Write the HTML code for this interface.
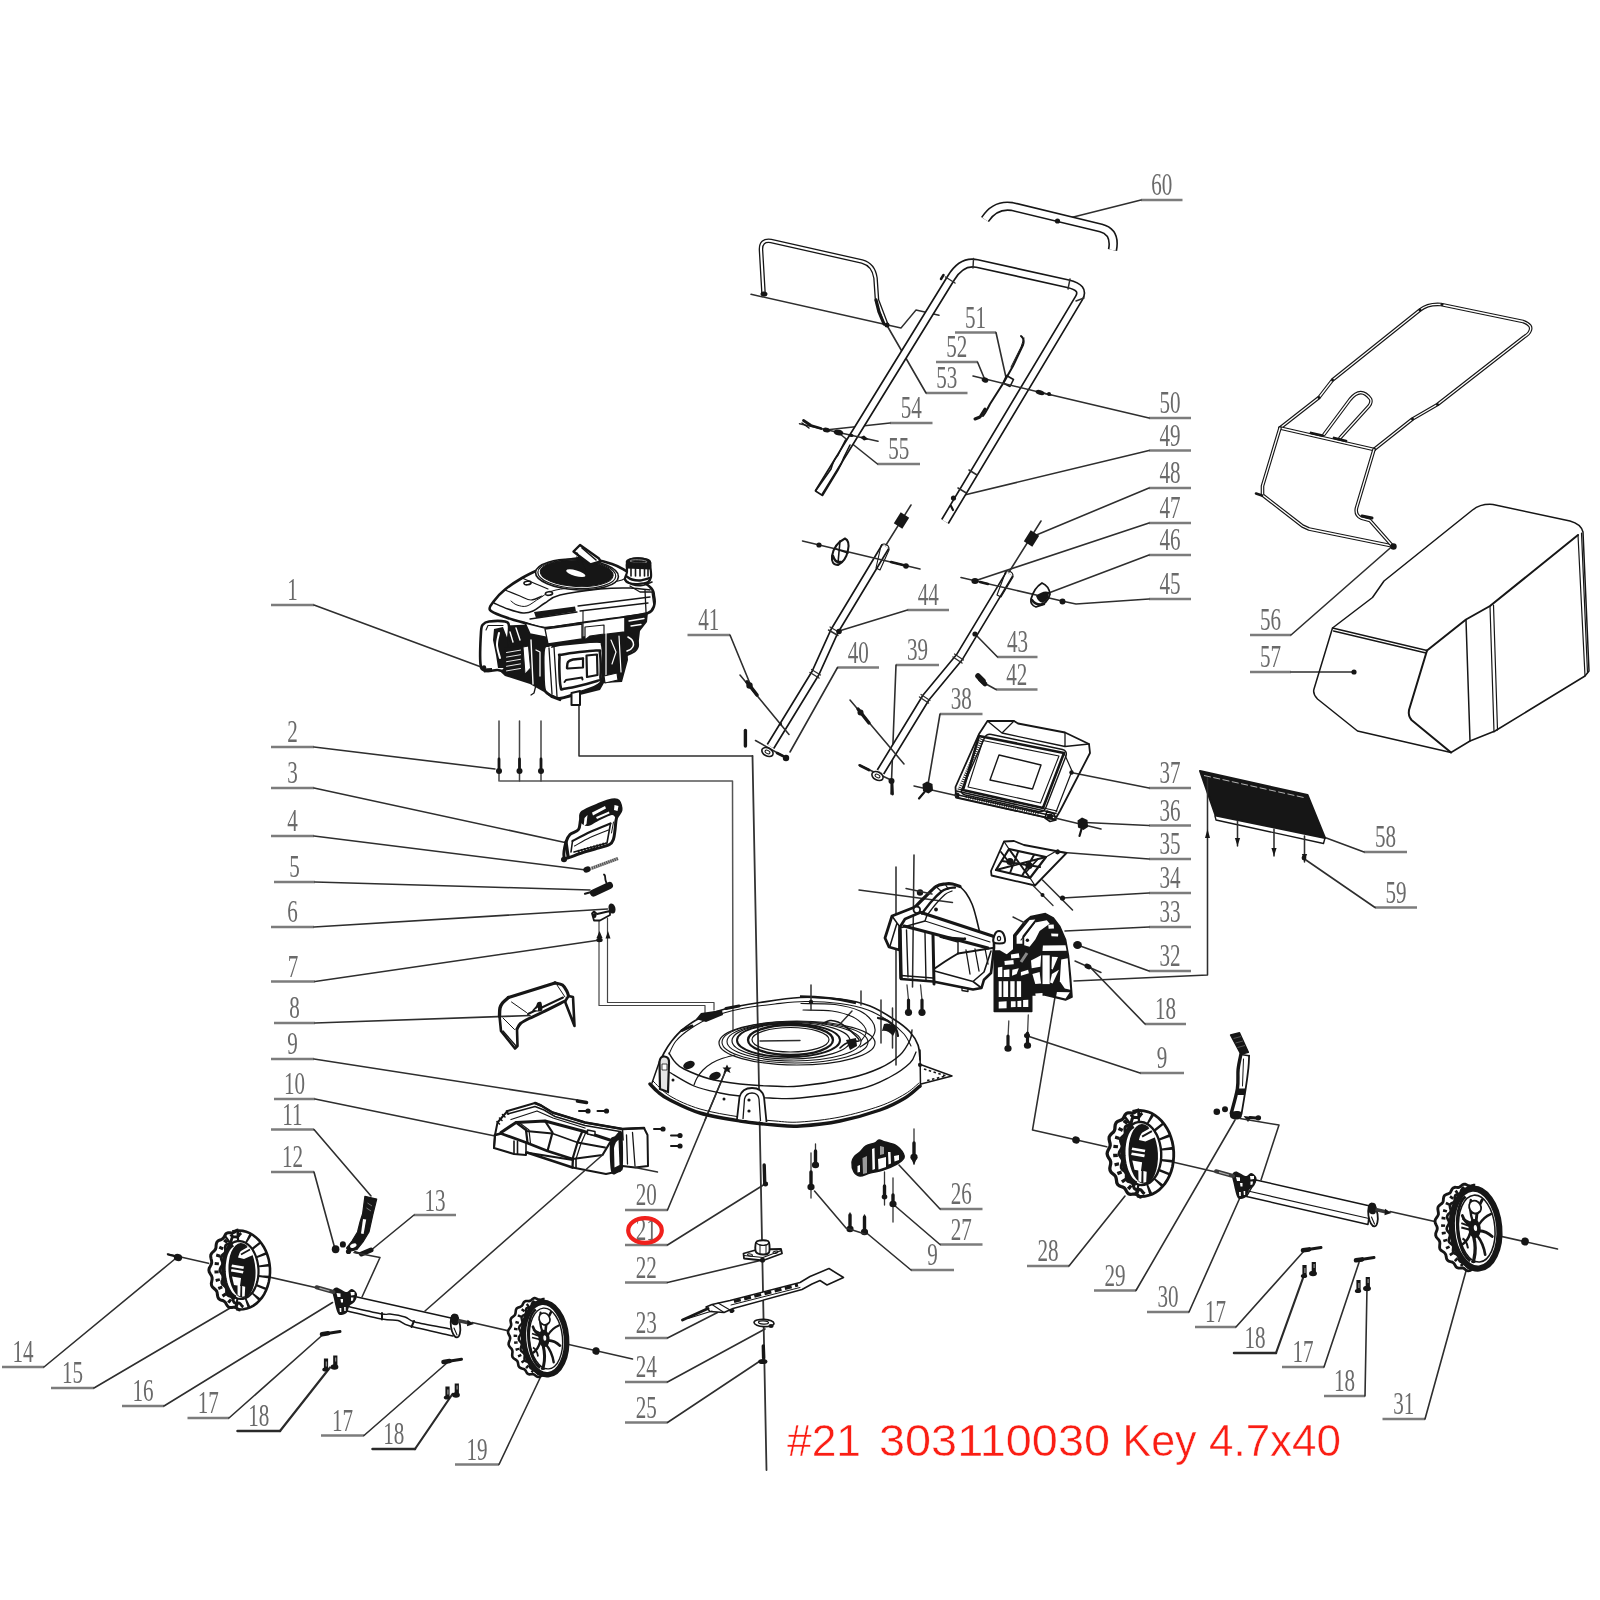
<!DOCTYPE html>
<html><head><meta charset="utf-8"><title>Parts diagram</title>
<style>
html,body{margin:0;padding:0;background:#fff;}
body{width:1600px;height:1600px;overflow:hidden;font-family:"Liberation Sans",sans-serif;}
svg{display:block;filter:blur(0.65px);}
.ld{fill:none;stroke:#2e2e2e;stroke-linejoin:round;stroke-linecap:round;}
.n{font-family:"Liberation Serif",serif;font-size:31.5px;fill:#6a6a6a;text-anchor:middle;}
.p{fill:none;stroke:#161616;stroke-linejoin:round;stroke-linecap:round;}
.pw{fill:#fff;stroke:#161616;stroke-linejoin:round;stroke-linecap:round;}
.pk{fill:#161616;stroke:#161616;stroke-linejoin:round;}
.t{fill:none;stroke:#161616;stroke-linejoin:round;stroke-linecap:round;}
.ti{fill:none;stroke:#fff;stroke-linejoin:round;stroke-linecap:round;}
.red{font-family:"Liberation Sans",sans-serif;fill:#fa1e14;}
</style></head><body>
<svg width="1600" height="1600" viewBox="0 0 1600 1600">
<rect width="1600" height="1600" fill="#fff"/>
<path class="ld" d="M271.0,605.0 L314.0,605.0" stroke-width="2.3" style="stroke:#7c7c7c;stroke-linecap:butt"/>
<path class="ld" d="M314.0,605.0 L482.5,667.5" stroke-width="1.6"/>
<text class="n" x="292.5" y="600.5" transform="translate(292.5 0) scale(0.67 1) translate(-292.5 0)">1</text>
<path class="ld" d="M271.0,747.0 L314.0,747.0" stroke-width="2.3" style="stroke:#7c7c7c;stroke-linecap:butt"/>
<path class="ld" d="M314.0,747.0 L495.0,769.0" stroke-width="1.6"/>
<text class="n" x="292.5" y="742.5" transform="translate(292.5 0) scale(0.67 1) translate(-292.5 0)">2</text>
<path class="ld" d="M271.0,788.0 L314.0,788.0" stroke-width="2.3" style="stroke:#7c7c7c;stroke-linecap:butt"/>
<path class="ld" d="M314.0,788.0 L565.0,842.5" stroke-width="1.6"/>
<text class="n" x="292.5" y="783.5" transform="translate(292.5 0) scale(0.67 1) translate(-292.5 0)">3</text>
<path class="ld" d="M271.0,836.0 L314.0,836.0" stroke-width="2.3" style="stroke:#7c7c7c;stroke-linecap:butt"/>
<path class="ld" d="M314.0,836.0 L586.0,870.0" stroke-width="1.6"/>
<text class="n" x="292.5" y="831.5" transform="translate(292.5 0) scale(0.67 1) translate(-292.5 0)">4</text>
<path class="ld" d="M274.0,882.0 L315.0,882.0" stroke-width="2.3" style="stroke:#7c7c7c;stroke-linecap:butt"/>
<path class="ld" d="M315.0,882.0 L590.0,890.0" stroke-width="1.6"/>
<text class="n" x="294.5" y="877.5" transform="translate(294.5 0) scale(0.67 1) translate(-294.5 0)">5</text>
<path class="ld" d="M271.0,927.0 L314.0,927.0" stroke-width="2.3" style="stroke:#7c7c7c;stroke-linecap:butt"/>
<path class="ld" d="M314.0,927.0 L607.5,909.0" stroke-width="1.6"/>
<text class="n" x="292.5" y="922.5" transform="translate(292.5 0) scale(0.67 1) translate(-292.5 0)">6</text>
<path class="ld" d="M271.0,981.5 L315.0,981.5" stroke-width="2.3" style="stroke:#7c7c7c;stroke-linecap:butt"/>
<path class="ld" d="M315.0,981.5 L600.0,940.0" stroke-width="1.6"/>
<text class="n" x="293.0" y="977.0" transform="translate(293.0 0) scale(0.67 1) translate(-293.0 0)">7</text>
<path class="ld" d="M274.0,1023.0 L315.0,1023.0" stroke-width="2.3" style="stroke:#7c7c7c;stroke-linecap:butt"/>
<path class="ld" d="M315.0,1023.0 L530.0,1015.5" stroke-width="1.6"/>
<text class="n" x="294.5" y="1018.5" transform="translate(294.5 0) scale(0.67 1) translate(-294.5 0)">8</text>
<path class="ld" d="M271.0,1059.0 L314.0,1059.0" stroke-width="2.3" style="stroke:#7c7c7c;stroke-linecap:butt"/>
<path class="ld" d="M314.0,1059.0 L577.5,1100.0" stroke-width="1.6"/>
<text class="n" x="292.5" y="1054.5" transform="translate(292.5 0) scale(0.67 1) translate(-292.5 0)">9</text>
<path class="ld" d="M274.0,1099.0 L315.0,1099.0" stroke-width="2.3" style="stroke:#7c7c7c;stroke-linecap:butt"/>
<path class="ld" d="M315.0,1099.0 L495.0,1136.0" stroke-width="1.6"/>
<text class="n" x="294.5" y="1094.5" transform="translate(294.5 0) scale(0.67 1) translate(-294.5 0)">10</text>
<path class="ld" d="M271.0,1129.5 L314.0,1129.5" stroke-width="2.3" style="stroke:#7c7c7c;stroke-linecap:butt"/>
<path class="ld" d="M314.0,1129.5 L371.0,1196.0" stroke-width="1.6"/>
<text class="n" x="292.5" y="1125.0" transform="translate(292.5 0) scale(0.67 1) translate(-292.5 0)">11</text>
<path class="ld" d="M271.0,1172.0 L314.0,1172.0" stroke-width="2.3" style="stroke:#7c7c7c;stroke-linecap:butt"/>
<path class="ld" d="M314.0,1172.0 L335.0,1249.0" stroke-width="1.6"/>
<text class="n" x="292.5" y="1167.5" transform="translate(292.5 0) scale(0.67 1) translate(-292.5 0)">12</text>
<path class="ld" d="M414.0,1215.0 L456.0,1215.0" stroke-width="2.3" style="stroke:#7c7c7c;stroke-linecap:butt"/>
<path class="ld" d="M414.0,1215.0 L372.5,1249.0" stroke-width="1.6"/>
<text class="n" x="435.0" y="1210.5" transform="translate(435.0 0) scale(0.67 1) translate(-435.0 0)">13</text>
<path class="ld" d="M2.0,1367.0 L44.0,1367.0" stroke-width="2.3" style="stroke:#7c7c7c;stroke-linecap:butt"/>
<path class="ld" d="M44.0,1367.0 L175.0,1259.0" stroke-width="1.6"/>
<text class="n" x="23.0" y="1362.5" transform="translate(23.0 0) scale(0.67 1) translate(-23.0 0)">14</text>
<path class="ld" d="M51.0,1388.0 L94.0,1388.0" stroke-width="2.3" style="stroke:#7c7c7c;stroke-linecap:butt"/>
<path class="ld" d="M94.0,1388.0 L231.0,1307.5" stroke-width="1.6"/>
<text class="n" x="72.5" y="1383.5" transform="translate(72.5 0) scale(0.67 1) translate(-72.5 0)">15</text>
<path class="ld" d="M122.0,1406.0 L164.0,1406.0" stroke-width="2.3" style="stroke:#7c7c7c;stroke-linecap:butt"/>
<path class="ld" d="M164.0,1406.0 L332.5,1302.5" stroke-width="1.6"/>
<text class="n" x="143.0" y="1401.5" transform="translate(143.0 0) scale(0.67 1) translate(-143.0 0)">16</text>
<path class="ld" d="M187.5,1418.0 L229.0,1418.0" stroke-width="2.3" style="stroke:#7c7c7c;stroke-linecap:butt"/>
<path class="ld" d="M229.0,1418.0 L322.5,1335.0" stroke-width="1.6"/>
<text class="n" x="208.2" y="1413.5" transform="translate(208.2 0) scale(0.67 1) translate(-208.2 0)">17</text>
<path class="ld" d="M237.5,1431.0 L280.0,1431.0" stroke-width="2.5" style="stroke:#2a2a2a"/>
<path class="ld" d="M280.0,1431.0 L330.0,1367.5" stroke-width="2.2" style="stroke:#2a2a2a"/>
<text class="n" x="258.8" y="1426.5" transform="translate(258.8 0) scale(0.67 1) translate(-258.8 0)">18</text>
<path class="ld" d="M321.0,1435.5 L364.0,1435.5" stroke-width="2.3" style="stroke:#7c7c7c;stroke-linecap:butt"/>
<path class="ld" d="M364.0,1435.5 L447.5,1362.5" stroke-width="1.6"/>
<text class="n" x="342.5" y="1431.0" transform="translate(342.5 0) scale(0.67 1) translate(-342.5 0)">17</text>
<path class="ld" d="M372.5,1449.0 L415.0,1449.0" stroke-width="2.5" style="stroke:#2a2a2a"/>
<path class="ld" d="M415.0,1449.0 L452.5,1394.0" stroke-width="2.2" style="stroke:#2a2a2a"/>
<text class="n" x="393.8" y="1444.5" transform="translate(393.8 0) scale(0.67 1) translate(-393.8 0)">18</text>
<path class="ld" d="M455.0,1464.5 L499.0,1464.5" stroke-width="2.3" style="stroke:#7c7c7c;stroke-linecap:butt"/>
<path class="ld" d="M499.0,1464.5 L541.0,1376.0" stroke-width="1.6"/>
<text class="n" x="477.0" y="1460.0" transform="translate(477.0 0) scale(0.67 1) translate(-477.0 0)">19</text>
<path class="ld" d="M625.0,1210.0 L667.5,1210.0" stroke-width="2.3" style="stroke:#7c7c7c;stroke-linecap:butt"/>
<path class="ld" d="M667.5,1210.0 L726.0,1070.0" stroke-width="1.6"/>
<text class="n" x="646.2" y="1205.5" transform="translate(646.2 0) scale(0.67 1) translate(-646.2 0)">20</text>
<path class="ld" d="M625.0,1245.0 L667.5,1245.0" stroke-width="2.3" style="stroke:#7c7c7c;stroke-linecap:butt"/>
<path class="ld" d="M667.5,1245.0 L765.0,1184.0" stroke-width="1.6"/>
<text class="n" x="646.2" y="1240.5" transform="translate(646.2 0) scale(0.67 1) translate(-646.2 0)">21</text>
<path class="ld" d="M625.0,1282.5 L667.5,1282.5" stroke-width="2.3" style="stroke:#7c7c7c;stroke-linecap:butt"/>
<path class="ld" d="M667.5,1282.5 L762.5,1260.0" stroke-width="1.6"/>
<text class="n" x="646.2" y="1278.0" transform="translate(646.2 0) scale(0.67 1) translate(-646.2 0)">22</text>
<path class="ld" d="M625.0,1338.0 L667.5,1338.0" stroke-width="2.3" style="stroke:#7c7c7c;stroke-linecap:butt"/>
<path class="ld" d="M667.5,1338.0 L717.5,1312.5" stroke-width="1.6"/>
<text class="n" x="646.2" y="1333.5" transform="translate(646.2 0) scale(0.67 1) translate(-646.2 0)">23</text>
<path class="ld" d="M625.0,1382.0 L667.5,1382.0" stroke-width="2.3" style="stroke:#7c7c7c;stroke-linecap:butt"/>
<path class="ld" d="M667.5,1382.0 L765.0,1329.0" stroke-width="1.6"/>
<text class="n" x="646.2" y="1377.5" transform="translate(646.2 0) scale(0.67 1) translate(-646.2 0)">24</text>
<path class="ld" d="M625.0,1422.5 L667.5,1422.5" stroke-width="2.3" style="stroke:#7c7c7c;stroke-linecap:butt"/>
<path class="ld" d="M667.5,1422.5 L760.0,1361.0" stroke-width="1.6"/>
<text class="n" x="646.2" y="1418.0" transform="translate(646.2 0) scale(0.67 1) translate(-646.2 0)">25</text>
<path class="ld" d="M940.0,1209.0 L982.5,1209.0" stroke-width="2.3" style="stroke:#7c7c7c;stroke-linecap:butt"/>
<path class="ld" d="M940.0,1209.0 L899.0,1165.0" stroke-width="1.6"/>
<text class="n" x="961.2" y="1204.5" transform="translate(961.2 0) scale(0.67 1) translate(-961.2 0)">26</text>
<path class="ld" d="M940.0,1244.5 L982.5,1244.5" stroke-width="2.3" style="stroke:#7c7c7c;stroke-linecap:butt"/>
<path class="ld" d="M940.0,1244.5 L894.0,1205.0" stroke-width="1.6"/>
<text class="n" x="961.2" y="1240.0" transform="translate(961.2 0) scale(0.67 1) translate(-961.2 0)">27</text>
<path class="ld" d="M911.0,1270.0 L954.0,1270.0" stroke-width="2.3" style="stroke:#7c7c7c;stroke-linecap:butt"/>
<path class="ld" d="M911.0,1270.0 L866.0,1232.5" stroke-width="1.6"/>
<text class="n" x="932.5" y="1265.5" transform="translate(932.5 0) scale(0.67 1) translate(-932.5 0)">9</text>
<path class="ld" d="M1027.0,1266.0 L1069.0,1266.0" stroke-width="2.3" style="stroke:#7c7c7c;stroke-linecap:butt"/>
<path class="ld" d="M1069.0,1266.0 L1125.0,1196.0" stroke-width="1.6"/>
<text class="n" x="1048.0" y="1261.5" transform="translate(1048.0 0) scale(0.67 1) translate(-1048.0 0)">28</text>
<path class="ld" d="M1094.0,1290.5 L1136.0,1290.5" stroke-width="2.3" style="stroke:#7c7c7c;stroke-linecap:butt"/>
<path class="ld" d="M1136.0,1290.5 L1235.0,1120.0" stroke-width="1.6"/>
<text class="n" x="1115.0" y="1286.0" transform="translate(1115.0 0) scale(0.67 1) translate(-1115.0 0)">29</text>
<path class="ld" d="M1147.0,1312.0 L1189.0,1312.0" stroke-width="2.3" style="stroke:#7c7c7c;stroke-linecap:butt"/>
<path class="ld" d="M1189.0,1312.0 L1240.0,1197.5" stroke-width="1.6"/>
<text class="n" x="1168.0" y="1307.5" transform="translate(1168.0 0) scale(0.67 1) translate(-1168.0 0)">30</text>
<path class="ld" d="M1195.0,1327.0 L1236.0,1327.0" stroke-width="2.3" style="stroke:#7c7c7c;stroke-linecap:butt"/>
<path class="ld" d="M1236.0,1327.0 L1304.0,1251.0" stroke-width="1.6"/>
<text class="n" x="1215.5" y="1322.5" transform="translate(1215.5 0) scale(0.67 1) translate(-1215.5 0)">17</text>
<path class="ld" d="M1234.0,1353.0 L1276.0,1353.0" stroke-width="2.5" style="stroke:#2a2a2a"/>
<path class="ld" d="M1276.0,1353.0 L1305.0,1272.5" stroke-width="2.2" style="stroke:#2a2a2a"/>
<text class="n" x="1255.0" y="1348.5" transform="translate(1255.0 0) scale(0.67 1) translate(-1255.0 0)">18</text>
<path class="ld" d="M1282.0,1367.0 L1324.0,1367.0" stroke-width="2.3" style="stroke:#7c7c7c;stroke-linecap:butt"/>
<path class="ld" d="M1324.0,1367.0 L1359.0,1262.5" stroke-width="1.6"/>
<text class="n" x="1303.0" y="1362.5" transform="translate(1303.0 0) scale(0.67 1) translate(-1303.0 0)">17</text>
<path class="ld" d="M1324.0,1396.0 L1365.0,1396.0" stroke-width="2.3" style="stroke:#7c7c7c;stroke-linecap:butt"/>
<path class="ld" d="M1365.0,1396.0 L1367.0,1287.5" stroke-width="1.6"/>
<text class="n" x="1344.5" y="1391.5" transform="translate(1344.5 0) scale(0.67 1) translate(-1344.5 0)">18</text>
<path class="ld" d="M1382.5,1419.0 L1425.0,1419.0" stroke-width="2.3" style="stroke:#7c7c7c;stroke-linecap:butt"/>
<path class="ld" d="M1425.0,1419.0 L1466.0,1271.0" stroke-width="1.6"/>
<text class="n" x="1403.8" y="1414.5" transform="translate(1403.8 0) scale(0.67 1) translate(-1403.8 0)">31</text>
<path class="ld" d="M1141.0,200.0 L1182.5,200.0" stroke-width="2.3" style="stroke:#7c7c7c;stroke-linecap:butt"/>
<path class="ld" d="M1141.0,200.0 L1057.5,221.0" stroke-width="1.6"/>
<text class="n" x="1161.8" y="195.5" transform="translate(1161.8 0) scale(0.67 1) translate(-1161.8 0)">60</text>
<path class="ld" d="M1149.0,418.0 L1191.0,418.0" stroke-width="2.3" style="stroke:#7c7c7c;stroke-linecap:butt"/>
<path class="ld" d="M1149.0,418.0 L1041.0,392.5" stroke-width="1.6"/>
<text class="n" x="1170.0" y="413.5" transform="translate(1170.0 0) scale(0.67 1) translate(-1170.0 0)">50</text>
<path class="ld" d="M1149.0,450.5 L1191.0,450.5" stroke-width="2.3" style="stroke:#7c7c7c;stroke-linecap:butt"/>
<path class="ld" d="M1149.0,450.5 L954.0,497.5" stroke-width="1.6"/>
<text class="n" x="1170.0" y="446.0" transform="translate(1170.0 0) scale(0.67 1) translate(-1170.0 0)">49</text>
<path class="ld" d="M1149.0,488.0 L1191.0,488.0" stroke-width="2.3" style="stroke:#7c7c7c;stroke-linecap:butt"/>
<path class="ld" d="M1149.0,488.0 L1034.0,536.0" stroke-width="1.6"/>
<text class="n" x="1170.0" y="483.5" transform="translate(1170.0 0) scale(0.67 1) translate(-1170.0 0)">48</text>
<path class="ld" d="M1149.0,523.0 L1191.0,523.0" stroke-width="2.3" style="stroke:#7c7c7c;stroke-linecap:butt"/>
<path class="ld" d="M1149.0,523.0 L977.5,580.0" stroke-width="1.6"/>
<text class="n" x="1170.0" y="518.5" transform="translate(1170.0 0) scale(0.67 1) translate(-1170.0 0)">47</text>
<path class="ld" d="M1149.0,555.0 L1191.0,555.0" stroke-width="2.3" style="stroke:#7c7c7c;stroke-linecap:butt"/>
<path class="ld" d="M1149.0,555.0 L1046.0,594.0" stroke-width="1.6"/>
<text class="n" x="1170.0" y="550.5" transform="translate(1170.0 0) scale(0.67 1) translate(-1170.0 0)">46</text>
<path class="ld" d="M1149.0,599.0 L1191.0,599.0" stroke-width="2.3" style="stroke:#7c7c7c;stroke-linecap:butt"/>
<path class="ld" d="M1149.0,599.0 L1076.0,604.0 L1064.0,601.5" stroke-width="1.6"/>
<text class="n" x="1170.0" y="594.5" transform="translate(1170.0 0) scale(0.67 1) translate(-1170.0 0)">45</text>
<path class="ld" d="M1149.0,788.0 L1191.0,788.0" stroke-width="2.3" style="stroke:#7c7c7c;stroke-linecap:butt"/>
<path class="ld" d="M1149.0,788.0 L1071.0,772.5" stroke-width="1.6"/>
<text class="n" x="1170.0" y="783.5" transform="translate(1170.0 0) scale(0.67 1) translate(-1170.0 0)">37</text>
<path class="ld" d="M1149.0,825.5 L1191.0,825.5" stroke-width="2.3" style="stroke:#7c7c7c;stroke-linecap:butt"/>
<path class="ld" d="M1149.0,825.5 L1085.0,822.5" stroke-width="1.6"/>
<text class="n" x="1170.0" y="821.0" transform="translate(1170.0 0) scale(0.67 1) translate(-1170.0 0)">36</text>
<path class="ld" d="M1149.0,859.0 L1191.0,859.0" stroke-width="2.3" style="stroke:#7c7c7c;stroke-linecap:butt"/>
<path class="ld" d="M1149.0,859.0 L1057.5,852.0" stroke-width="1.6"/>
<text class="n" x="1170.0" y="854.5" transform="translate(1170.0 0) scale(0.67 1) translate(-1170.0 0)">35</text>
<path class="ld" d="M1149.0,893.0 L1191.0,893.0" stroke-width="2.3" style="stroke:#7c7c7c;stroke-linecap:butt"/>
<path class="ld" d="M1149.0,893.0 L1062.5,898.0" stroke-width="1.6"/>
<text class="n" x="1170.0" y="888.5" transform="translate(1170.0 0) scale(0.67 1) translate(-1170.0 0)">34</text>
<path class="ld" d="M1149.0,927.0 L1191.0,927.0" stroke-width="2.3" style="stroke:#7c7c7c;stroke-linecap:butt"/>
<path class="ld" d="M1149.0,927.0 L1065.0,931.0" stroke-width="1.6"/>
<text class="n" x="1170.0" y="922.5" transform="translate(1170.0 0) scale(0.67 1) translate(-1170.0 0)">33</text>
<path class="ld" d="M1149.0,971.0 L1191.0,971.0" stroke-width="2.3" style="stroke:#7c7c7c;stroke-linecap:butt"/>
<path class="ld" d="M1149.0,971.0 L1077.5,945.0" stroke-width="1.6"/>
<text class="n" x="1170.0" y="966.5" transform="translate(1170.0 0) scale(0.67 1) translate(-1170.0 0)">32</text>
<path class="ld" d="M1145.0,1024.0 L1186.0,1024.0" stroke-width="2.3" style="stroke:#7c7c7c;stroke-linecap:butt"/>
<path class="ld" d="M1145.0,1024.0 L1089.0,966.0" stroke-width="1.6"/>
<text class="n" x="1165.5" y="1019.5" transform="translate(1165.5 0) scale(0.67 1) translate(-1165.5 0)">18</text>
<path class="ld" d="M1140.0,1073.0 L1184.0,1073.0" stroke-width="2.3" style="stroke:#7c7c7c;stroke-linecap:butt"/>
<path class="ld" d="M1140.0,1073.0 L1027.5,1036.0" stroke-width="1.6"/>
<text class="n" x="1162.0" y="1068.5" transform="translate(1162.0 0) scale(0.67 1) translate(-1162.0 0)">9</text>
<path class="ld" d="M907.5,610.0 L949.0,610.0" stroke-width="2.3" style="stroke:#7c7c7c;stroke-linecap:butt"/>
<path class="ld" d="M907.5,610.0 L839.0,631.0" stroke-width="1.6"/>
<text class="n" x="928.2" y="605.5" transform="translate(928.2 0) scale(0.67 1) translate(-928.2 0)">44</text>
<path class="ld" d="M997.5,657.0 L1037.5,657.0" stroke-width="2.3" style="stroke:#7c7c7c;stroke-linecap:butt"/>
<path class="ld" d="M997.5,657.0 L975.0,634.0" stroke-width="1.6"/>
<text class="n" x="1017.5" y="652.5" transform="translate(1017.5 0) scale(0.67 1) translate(-1017.5 0)">43</text>
<path class="ld" d="M996.0,689.5 L1037.5,689.5" stroke-width="2.3" style="stroke:#7c7c7c;stroke-linecap:butt"/>
<path class="ld" d="M996.0,689.5 L986.0,684.0" stroke-width="1.6"/>
<text class="n" x="1016.8" y="685.0" transform="translate(1016.8 0) scale(0.67 1) translate(-1016.8 0)">42</text>
<path class="ld" d="M687.5,635.0 L730.0,635.0" stroke-width="2.3" style="stroke:#7c7c7c;stroke-linecap:butt"/>
<path class="ld" d="M730.0,635.0 L751.0,686.0" stroke-width="1.6"/>
<text class="n" x="708.8" y="630.5" transform="translate(708.8 0) scale(0.67 1) translate(-708.8 0)">41</text>
<path class="ld" d="M837.5,667.5 L879.0,667.5" stroke-width="2.3" style="stroke:#7c7c7c;stroke-linecap:butt"/>
<path class="ld" d="M837.5,667.5 L790.0,752.0" stroke-width="1.6"/>
<text class="n" x="858.2" y="663.0" transform="translate(858.2 0) scale(0.67 1) translate(-858.2 0)">40</text>
<path class="ld" d="M896.0,665.0 L939.0,665.0" stroke-width="2.3" style="stroke:#7c7c7c;stroke-linecap:butt"/>
<path class="ld" d="M896.0,665.0 L891.0,794.0" stroke-width="1.6"/>
<text class="n" x="917.5" y="660.5" transform="translate(917.5 0) scale(0.67 1) translate(-917.5 0)">39</text>
<path class="ld" d="M940.0,714.0 L982.5,714.0" stroke-width="2.3" style="stroke:#7c7c7c;stroke-linecap:butt"/>
<path class="ld" d="M940.0,714.0 L927.5,787.5" stroke-width="1.6"/>
<text class="n" x="961.2" y="709.5" transform="translate(961.2 0) scale(0.67 1) translate(-961.2 0)">38</text>
<path class="ld" d="M955.0,332.5 L996.0,332.5" stroke-width="2.3" style="stroke:#7c7c7c;stroke-linecap:butt"/>
<path class="ld" d="M996.0,332.5 L1006.0,377.5" stroke-width="1.6"/>
<text class="n" x="975.5" y="328.0" transform="translate(975.5 0) scale(0.67 1) translate(-975.5 0)">51</text>
<path class="ld" d="M936.0,362.0 L977.5,362.0" stroke-width="2.3" style="stroke:#7c7c7c;stroke-linecap:butt"/>
<path class="ld" d="M977.5,362.0 L985.0,380.0" stroke-width="1.6"/>
<text class="n" x="956.8" y="357.5" transform="translate(956.8 0) scale(0.67 1) translate(-956.8 0)">52</text>
<path class="ld" d="M926.0,393.0 L967.5,393.0" stroke-width="2.3" style="stroke:#7c7c7c;stroke-linecap:butt"/>
<path class="ld" d="M926.0,393.0 L885.0,322.0" stroke-width="1.6"/>
<text class="n" x="946.8" y="388.5" transform="translate(946.8 0) scale(0.67 1) translate(-946.8 0)">53</text>
<path class="ld" d="M890.0,423.0 L932.5,423.0" stroke-width="2.3" style="stroke:#7c7c7c;stroke-linecap:butt"/>
<path class="ld" d="M890.0,423.0 L830.0,429.5" stroke-width="1.6"/>
<text class="n" x="911.2" y="418.5" transform="translate(911.2 0) scale(0.67 1) translate(-911.2 0)">54</text>
<path class="ld" d="M877.5,464.0 L920.0,464.0" stroke-width="2.3" style="stroke:#7c7c7c;stroke-linecap:butt"/>
<path class="ld" d="M877.5,464.0 L840.0,434.0" stroke-width="1.6"/>
<text class="n" x="898.8" y="459.5" transform="translate(898.8 0) scale(0.67 1) translate(-898.8 0)">55</text>
<path class="ld" d="M1250.0,635.0 L1291.0,635.0" stroke-width="2.3" style="stroke:#7c7c7c;stroke-linecap:butt"/>
<path class="ld" d="M1291.0,635.0 L1392.5,546.0" stroke-width="1.6"/>
<text class="n" x="1270.5" y="630.5" transform="translate(1270.5 0) scale(0.67 1) translate(-1270.5 0)">56</text>
<path class="ld" d="M1250.0,672.0 L1291.0,672.0" stroke-width="2.3" style="stroke:#7c7c7c;stroke-linecap:butt"/>
<path class="ld" d="M1291.0,672.0 L1354.0,672.0" stroke-width="1.6"/>
<text class="n" x="1270.5" y="667.5" transform="translate(1270.5 0) scale(0.67 1) translate(-1270.5 0)">57</text>
<circle cx="1354" cy="672" r="2.6" fill="#161616"/>
<path class="ld" d="M1364.0,852.0 L1407.0,852.0" stroke-width="2.3" style="stroke:#7c7c7c;stroke-linecap:butt"/>
<path class="ld" d="M1364.0,852.0 L1325.0,837.5" stroke-width="1.6"/>
<text class="n" x="1385.5" y="847.5" transform="translate(1385.5 0) scale(0.67 1) translate(-1385.5 0)">58</text>
<path class="ld" d="M1375.0,907.5 L1417.0,907.5" stroke-width="2.3" style="stroke:#7c7c7c;stroke-linecap:butt"/>
<path class="ld" d="M1375.0,907.5 L1304.5,859.0" stroke-width="1.6"/>
<text class="n" x="1396.0" y="903.0" transform="translate(1396.0 0) scale(0.67 1) translate(-1396.0 0)">59</text>
<ellipse cx="645" cy="1230.5" rx="16.8" ry="12.3" fill="none" stroke="#f0201c" stroke-width="4.2"/>
<text class="red" x="787" y="1456" font-size="44.5" textLength="74" lengthAdjust="spacingAndGlyphs" stroke="#fff" stroke-width="0.45">#21</text>
<text class="red" x="879" y="1456" font-size="44.5" textLength="231" lengthAdjust="spacingAndGlyphs" stroke="#fff" stroke-width="0.45">303110030</text>
<text class="red" x="1122.5" y="1456" font-size="44.5" textLength="74" lengthAdjust="spacingAndGlyphs" stroke="#fff" stroke-width="0.45">Key</text>
<text class="red" x="1209" y="1456" font-size="44.5" textLength="132" lengthAdjust="spacingAndGlyphs" stroke="#fff" stroke-width="0.45">4.7x40</text>
<path class="t" d="M985,219.5 Q995,204 1012,206.5 L1101,228 Q1116,232 1112.5,250" stroke-width="9.5" style="stroke-linecap:butt"/>
<path class="ti" d="M985,219.5 Q995,204 1012,206.5 L1101,228 Q1116,232 1112.5,250" stroke-width="6.3" style="stroke-linecap:butt"/>
<circle cx="1057.5" cy="221" r="2.6" fill="#161616"/>
<path class="t" d="M763.5,293 L761,250 Q760.5,239.5 771,241 L862,261.5 Q873.5,264.5 875.5,278 L877,300 L886.5,325" stroke-width="4.6" style="stroke-linecap:butt"/>
<path class="ti" d="M763.5,293 L761,250 Q760.5,239.5 771,241 L862,261.5 Q873.5,264.5 875.5,278 L877,300 L886.5,325" stroke-width="1.9999999999999996" style="stroke-linecap:butt"/>
<path class="ld" d="M751,294.3 L901,328 L916,310 L939,315.3" stroke-width="1.4"/>
<ellipse cx="764" cy="294" rx="3.5" ry="2.5" fill="#161616" transform="rotate(10 764 294)"/>
<path class="p" d="M876,300 L879,312 L884,324" stroke-width="3.2"/>
<circle cx="887" cy="325" r="2.5" fill="#161616"/>
<circle cx="931" cy="314" r="1.8" fill="#161616"/>
<path class="p" d="M941,279 L943.5,275" stroke-width="2.5"/>
<path class="t" d="M818.5,493 L951,278 Q961.7,260.2 977,263.5 L1068,283.7 Q1085.1,287.5 1079,298 L945,521.5" stroke-width="9.3" style="stroke-linecap:butt"/>
<path class="ti" d="M818.5,493 L951,278 Q961.7,260.2 977,263.5 L1068,283.7 Q1085.1,287.5 1079,298 L945,521.5" stroke-width="6.000000000000001" style="stroke-linecap:butt"/>
<path class="ld" d="M973.5,258.5 L973,268" stroke-width="1.45"/>
<path class="ld" d="M1070,279 L1068,289" stroke-width="1.45"/>
<path class="ld" d="M945.5,277 L955,283" stroke-width="1.45"/>
<path class="ld" d="M1076,301 L1084,298" stroke-width="1.45"/>
<path class="p" d="M845.5,440 L838,455 Q833,461 831,469 L815.5,491 L822.5,495.5 L838,470 Q842,463 844,457 L850,445" stroke-width="1.6"/>
<path class="ld" d="M969,470 L977,475" stroke-width="1.55"/>
<path class="ld" d="M958,488 L965.5,492.5" stroke-width="1.55"/>
<circle cx="953.5" cy="498" r="2.6" fill="#161616"/>
<path class="p" d="M951,506 L953,510" stroke-width="2.2"/>
<path class="p" d="M1021,336 Q1025,339 1023,345 L1013,366 L1004,382 L990,404 Q986,412 983,416" stroke-width="2.0"/>
<path class="p" d="M1024,338 L1021,347 L1011,367" stroke-width="1.0"/>
<path class="p" d="M985,409 L980,417 L975,419" stroke-width="3.0"/>
<path class="p" d="M1003,383 L1010,386.5 L1013.5,379.5 L1006.5,375.5 Z" stroke-width="1.6"/>
<path class="ld" d="M973,376 L1051,395" stroke-width="1.55"/>
<ellipse cx="985" cy="380" rx="3.4" ry="2.6" fill="#161616" transform="rotate(20 985 380)"/>
<ellipse cx="1040" cy="392.5" rx="4.5" ry="2.4" fill="#161616" transform="rotate(15 1040 392.5)"/>
<circle cx="1049" cy="394" r="2.0" fill="#161616"/>
<path class="ld" d="M799.5,423.7 L878,441.3" stroke-width="1.55"/>
<path d="M860,437.2 L864,435.6 L868.5,439.2 L864,440.6 Z" fill="#161616"/>
<path class="p" d="M803.5,420.5 L811,425.5 L821,428.5" stroke-width="2.8"/>
<path class="p" d="M802,423 L809,428" stroke-width="1.4"/>
<ellipse cx="826.5" cy="430" rx="3.8" ry="2.4" fill="#161616" transform="rotate(12 826.5 430)"/>
<ellipse cx="838.5" cy="432.6" rx="4.8" ry="2.8" fill="#161616" transform="rotate(12 838.5 432.6)"/>
<ellipse cx="851" cy="435.4" rx="2.6" ry="1.6" fill="#161616" transform="rotate(12 851 435.4)"/>
<path class="t" d="M885.5,546.5 L834.5,631 L815.5,673 L770.5,746.5" stroke-width="9.2" style="stroke-linecap:butt"/>
<path class="ti" d="M885.5,546.5 L834.5,631 L815.5,673 L770.5,746.5" stroke-width="5.8999999999999995" style="stroke-linecap:butt"/>
<path class="ld" d="M830,627 L839.5,632.5" stroke-width="1.2"/>
<path class="ld" d="M828.5,630 L838,635.5" stroke-width="1.45"/>
<path class="ld" d="M811.5,669.5 L820.5,675" stroke-width="1.2"/>
<path class="ld" d="M810,672.5 L819,678" stroke-width="1.45"/>
<circle cx="839" cy="631.5" r="2.8" fill="#161616"/>
<path class="p" d="M880.5,548 Q881,543.5 884.5,544 Q889.5,545 889,550 L880,570 L876,568 Z" stroke-width="1.1"/>
<path class="t" d="M1009.5,574 L959.5,657 L926,697.5 L880.5,772" stroke-width="9.2" style="stroke-linecap:butt"/>
<path class="ti" d="M1009.5,574 L959.5,657 L926,697.5 L880.5,772" stroke-width="5.8999999999999995" style="stroke-linecap:butt"/>
<path class="ld" d="M954.5,654 L963.5,660" stroke-width="1.2"/>
<path class="ld" d="M953,657 L962,663" stroke-width="1.45"/>
<path class="ld" d="M921,694.5 L930,700.5" stroke-width="1.2"/>
<path class="ld" d="M919.5,697 L928.5,703" stroke-width="1.45"/>
<circle cx="975" cy="634" r="2.6" fill="#161616"/>
<path class="p" d="M1004.5,575 Q1005,570.5 1008.5,571 Q1013.5,572 1013,577 L1001,597 L997,595 Z" stroke-width="1.1"/>
<path class="ld" d="M911,505 L886,545" stroke-width="1.55"/>
<rect x="-6.5" y="-5" width="13" height="10" fill="#161616" transform="translate(901.5 520.5) rotate(-58)"/>
<path class="ld" d="M1041,521 L1009,572" stroke-width="1.55"/>
<rect x="-6.5" y="-5" width="13" height="10" fill="#161616" transform="translate(1031.5 538.5) rotate(-58)"/>
<path class="ld" d="M802.5,541 L920,569" stroke-width="1.55"/>
<circle cx="819" cy="545" r="2.6" fill="#161616"/>
<path class="p" d="M891,562 L905,565.5" stroke-width="2.4"/>
<circle cx="906" cy="566" r="2.8" fill="#161616"/>
<path class="p" d="M845,538.5 Q850,541 848,550 Q846,561 838,565 Q831,565 832,556 Q834,544 845,538.5 Z" stroke-width="2.0"/>
<path class="p" d="M836,549 L848,553 M840,541 L838,563" stroke-width="1.6"/>
<path class="p" d="M833,556 Q835,563 841,562" stroke-width="2.6"/>
<path class="ld" d="M961,577.5 L1062,601" stroke-width="1.55"/>
<ellipse cx="975" cy="581" rx="3.6" ry="3.0" fill="#161616" transform="rotate(0 975 581)"/>
<path class="p" d="M980,582 L988,584" stroke-width="2.4"/>
<path class="p" d="M1042,583 Q1049,586 1050,594 Q1048,604 1036,607 Q1030,605 1031,599 Q1034,588 1042,583 Z" stroke-width="1.8"/>
<path d="M1036,596 Q1043,590 1049,592 Q1049,600 1043,603 Q1038,602 1036,596 Z" fill="#161616"/>
<path class="p" d="M1032,600 Q1036,606 1044,604" stroke-width="2.4"/>
<circle cx="1062.5" cy="601.5" r="3" fill="#161616"/>
<path class="ld" d="M740,675 L789,734.5" stroke-width="1.55"/>
<path class="p" d="M747,682 L757,695" stroke-width="3.6"/>
<circle cx="749.5" cy="685.5" r="3.2" fill="#161616"/>
<path class="p" d="M745.4,730.5 L745.4,746" stroke-width="3.4"/>
<path class="ld" d="M755.5,740.5 L783,756" stroke-width="1.55"/>
<ellipse cx="767.5" cy="752" rx="6" ry="4" fill="#fff" stroke="#161616" stroke-width="1.6" transform="rotate(28 767.5 752)"/>
<ellipse cx="767.5" cy="752" rx="2.6" ry="1.6" fill="none" stroke="#161616" stroke-width="1" transform="rotate(28 767.5 752)"/>
<path class="p" d="M777,753 L783,756" stroke-width="2.6"/>
<circle cx="786" cy="758" r="3.2" fill="#161616"/>
<circle cx="780.5" cy="724" r="1.6" fill="#161616"/>
<path class="ld" d="M850,700 L904,764" stroke-width="1.55"/>
<path class="p" d="M858,709 L869,723" stroke-width="3.4"/>
<circle cx="860.5" cy="712.5" r="3.0" fill="#161616"/>
<path class="ld" d="M859,765 L891,780" stroke-width="1.55"/>
<path class="p" d="M860,765.5 L869,770" stroke-width="2.8"/>
<ellipse cx="877.5" cy="776" rx="6" ry="4" fill="#fff" stroke="#161616" stroke-width="1.6" transform="rotate(28 877.5 776)"/>
<ellipse cx="877.5" cy="776" rx="2.6" ry="1.6" fill="none" stroke="#161616" stroke-width="1" transform="rotate(28 877.5 776)"/>
<circle cx="891.5" cy="781" r="3.0" fill="#161616"/>
<path class="p" d="M892,783 L892.5,794" stroke-width="2.8"/>
<path class="p" d="M980,679 L985,684" stroke-width="4.6"/>
<path class="p" d="M978,676 L983,681" stroke-width="5.5"/>
<path class="t" d="M1324,434.5 L1350,399.5 Q1361,386 1370.5,399 Q1372,402 1369,406 L1340,438" stroke-width="3.6"/>
<path class="ti" d="M1324,434.5 L1350,399.5 Q1361,386 1370.5,399 Q1372,402 1369,406 L1340,438" stroke-width="1.3000000000000003"/>
<path class="t" d="M1280,428 L1319,397.5 L1332.5,380 L1420,310 Q1428,303.5 1441,304.5 L1523,321.5 Q1533,325 1530,331 Q1529,334 1524,337 L1437.5,404.5 L1412.5,419 L1374,449.5" stroke-width="3.6"/>
<path class="ti" d="M1280,428 L1319,397.5 L1332.5,380 L1420,310 Q1428,303.5 1441,304.5 L1523,321.5 Q1533,325 1530,331 Q1529,334 1524,337 L1437.5,404.5 L1412.5,419 L1374,449.5" stroke-width="1.3000000000000003"/>
<path class="t" d="M1280,428 L1374,449.5" stroke-width="3.6"/>
<path class="ti" d="M1280,428 L1374,449.5" stroke-width="1.3000000000000003"/>
<path class="t" d="M1280,428 L1262.5,486 L1262.5,495 L1302.5,526 L1309,529 L1392.5,546" stroke-width="3.6"/>
<path class="ti" d="M1280,428 L1262.5,486 L1262.5,495 L1302.5,526 L1309,529 L1392.5,546" stroke-width="1.3000000000000003"/>
<path class="t" d="M1374,449.5 L1356.5,508 Q1355,515 1361,518 L1370,520.5 L1392.5,546" stroke-width="3.6"/>
<path class="ti" d="M1374,449.5 L1356.5,508 Q1355,515 1361,518 L1370,520.5 L1392.5,546" stroke-width="1.3000000000000003"/>
<path class="p" d="M1256,493.5 L1262,495.5" stroke-width="2.6"/>
<path class="p" d="M1311,433 L1322,435.5 M1334,438 L1346,441" stroke-width="2.8"/>
<path class="p" d="M1362,516 L1372,518" stroke-width="3"/>
<circle cx="1393.5" cy="546.5" r="3.2" fill="#161616"/>
<circle cx="1332.5" cy="380" r="1.5" fill="#161616"/>
<circle cx="1319" cy="397.5" r="1.5" fill="#161616"/>
<circle cx="1420" cy="310" r="1.5" fill="#161616"/>
<circle cx="1437.5" cy="404.5" r="1.5" fill="#161616"/>
<circle cx="1412.5" cy="419" r="1.5" fill="#161616"/>
<circle cx="1442" cy="304.5" r="1.5" fill="#161616"/>
<path class="p" d="M1332.5,628 L1372.5,597.5 L1384,581 L1472.5,510 Q1481,503.5 1493,504.5 L1570,521 Q1581,524 1583,532 L1589,671 L1585,676 L1495,731 L1470,741 L1451,752.5 L1357.5,731 L1317.5,699 Q1312.5,694 1314,689 Z" stroke-width="1.5"/>
<path class="p" d="M1332.5,628 L1427,650.5 M1333.5,631 L1426,653" stroke-width="1.3"/>
<path class="p" d="M1427,650.5 L1466,619.5 L1490,606 L1578,535" stroke-width="2.0"/>
<path class="p" d="M1427,650.5 L1409,710 Q1408,716 1411.5,720 L1451,752.5" stroke-width="2.0"/>
<path class="p" d="M1466,620 L1470,741" stroke-width="1.5"/>
<path class="p" d="M1490,606 L1494,732 M1493.5,605 L1497.5,730" stroke-width="1.2"/>
<path class="p" d="M1578,535 L1585,676 M1581.5,533 L1587.5,673" stroke-width="1.2"/>
<path d="M1200,771 L1307.5,795 L1325,838 L1215.5,815.5 Z" fill="#161616" stroke="#161616" stroke-width="2" stroke-linejoin="round"/>
<path d="M1204,775.5 L1306,798" stroke="#fff" stroke-width="0.9" stroke-dasharray="7 2.5" fill="none" opacity="0.75"/>
<path class="p" d="M1215,816 L1216,820 L1323.5,843.5 L1325,838" stroke-width="1.4"/>
<path class="ld" d="M1207.5,778 L1207.5,975 L1074,981" stroke-width="1.55"/>
<path d="M1205,838 L1207.5,829 L1210,838 Z" fill="#161616"/>
<path class="ld" d="M1237.5,821 L1237.5,846" stroke-width="1.55"/>
<path d="M1234.9,838 L1240.1,838 L1237.5,846 Z" fill="#161616"/>
<path class="ld" d="M1274,829 L1274,856" stroke-width="1.55"/>
<path d="M1271.4,848 L1276.6,848 L1274,856 Z" fill="#161616"/>
<path class="ld" d="M1304.5,836 L1304.5,862" stroke-width="1.55"/>
<path d="M1301.9,854 L1307.1,854 L1304.5,862 Z" fill="#161616"/>
<circle cx="1304" cy="858" r="2.4" fill="#161616"/>
<path class="p" d="M987.5,721 L1014,721 L1018,723.5 L1065,732.5 L1089,744 L1090,753 L1060,811 L1055,819.5 L956,797.5 L955.5,787 L979,734 Z" stroke-width="1.8"/>
<path class="p" d="M987.5,721 L1002,733 M1014,721 L1002,733 L1065,746.5 L1065,732.5 M1065,746.5 L1089,744" stroke-width="1.3"/>
<path class="p" d="M979,736 L1064,753 L1043,808 L963,790 Z" stroke-width="2.6"/>
<path class="p" d="M983,740.5 L1059,756 L1040.5,803 L968,787 Z" stroke-width="1.1"/>
<path class="p" d="M999,755 L1041,765 L1032.5,789 L990,780 Z" stroke-width="1.4"/>
<path class="p" d="M956.5,791 L1056,813.5 M956,794.5 L1055.5,816.5" stroke-width="1.5"/>
<path class="p" d="M961.5,790 L984.5,738 Q986.5,733.5 991.5,734.5 L1062.5,749.5 Q1067.5,751 1066,756 L1045.5,808.5 Q1043.5,812.5 1038.5,811.5 L965.5,795 Q960.5,793.5 961.5,790 Z" stroke-width="1.4"/>
<path d="M960,788 L982.5,737" stroke="#161616" stroke-width="3.6" stroke-dasharray="0.9 1.3" fill="none"/>
<path class="p" d="M957,797.5 L1054,819.5 M958,789 L1057,811" stroke-width="1.2"/>
<path d="M966,796.5 L1040,813.5" stroke="#161616" stroke-width="3.4" stroke-dasharray="0.9 1.4" fill="none"/>
<path class="p" d="M1047,811 L1054,814 L1056,820 L1050,821.5 L1045,818 Z" stroke-width="1.6"/>
<path class="p" d="M1064,753 L1072,771 M1072,771 L1056,812" stroke-width="1.2"/>
<circle cx="1071.5" cy="772.5" r="2.2" fill="#161616"/>
<circle cx="957" cy="795" r="2.6" fill="#161616"/>
<circle cx="1050" cy="816.5" r="3.0" fill="#161616"/>
<path class="ld" d="M914,786 L956,795.5" stroke-width="1.55"/>
<path d="M922.5,784 L927,781.5 L932.5,784 L933,790.5 L928.5,793.5 L923,791 Z" fill="#161616"/>
<path class="p" d="M924.5,792 L919,798.5" stroke-width="2.2"/>
<path class="ld" d="M1055,818 L1101,829" stroke-width="1.55"/>
<path d="M1077.5,820.5 L1082,817.5 L1087.5,820 L1088,827 L1083.5,830 L1078,827.5 Z" fill="#161616"/>
<path class="p" d="M1081.5,829 L1079.5,836" stroke-width="2.2"/>
<path class="p" d="M1004,841.5 L1014,841 L1024,845 L1066.5,853 L1035,885.5 L991.5,875.5 L991,871 Z" stroke-width="1.8"/>
<path class="p" d="M1009,849 L1046,857 L1030,878 L996,870 Z" stroke-width="2.2"/>
<path class="p" d="M1004,841.5 L1009,849 M1046,857 L1058,850 M1030,878 L1035,885.5" stroke-width="1.3"/>
<path class="p" d="M1009,849 L1030,878 M1046,857 L996,870 M1018,852 L1010,873 M1034,855 L1022,876 M1002,861 L1040,867" stroke-width="2.0"/>
<path class="p" d="M1001,852 L1012,866 M1038,859 L1026,872" stroke-width="1.8"/>
<circle cx="1010" cy="861.5" r="3.6" fill="#161616"/>
<circle cx="1029" cy="865.5" r="3.6" fill="#161616"/>
<circle cx="1057.5" cy="852" r="2.4" fill="#161616"/>
<path class="ld" d="M1032.5,885 L1053,905.5" stroke-width="1.3"/>
<path class="ld" d="M1042.5,880 L1072.5,910" stroke-width="1.55"/>
<circle cx="1042.5" cy="895" r="2.0" fill="#161616"/>
<circle cx="1062.5" cy="898" r="2.6" fill="#161616"/>
<path class="ld" d="M579,706 L579,756 L752.5,756" stroke-width="1.55"/>
<path class="ld" d="M752.5,756 L766.5,1470" stroke-width="1.8" style="stroke:#333"/>
<path class="ld" d="M500,781 L732.5,781 L733,1031" stroke-width="1.5" style="stroke:#555"/>
<path class="ld" d="M599,918 L599,1005.5 L705,1005.5 L705,1014" stroke-width="1.2" style="stroke:#444"/>
<path class="ld" d="M607.5,918 L607.5,1002.5 L714,1002.5 L714,1010" stroke-width="1.2" style="stroke:#444"/>
<path class="ld" d="M896,867 L896,1065" stroke-width="1.55"/>
<path class="ld" d="M914,855 L912.5,987" stroke-width="1.55"/>
<path class="ld" d="M859,890 L952.5,902.5" stroke-width="1.45"/>
<path class="ld" d="M1055,997 L1032.5,1130 L1110,1147.5" stroke-width="1.55"/>
<path class="ld" d="M726,1070 L705,1120" stroke-width="1.55"/>
<path class="p" d="M660.0,1062.0 C660.7,1060.5 662.2,1056.3 664.0,1053.0 C665.8,1049.7 668.0,1045.8 671.0,1042.0 C674.0,1038.2 677.2,1034.0 682.0,1030.0 C686.8,1026.0 692.8,1021.5 700.0,1018.0 C707.2,1014.5 715.0,1011.6 725.0,1009.0 C735.0,1006.4 747.5,1004.4 760.0,1002.5 C772.5,1000.6 786.7,998.1 800.0,997.5 C813.3,996.9 828.3,997.6 840.0,999.0 C851.7,1000.4 860.8,1002.5 870.0,1006.0 C879.2,1009.5 888.3,1015.7 895.0,1020.0 C901.7,1024.3 906.2,1027.8 910.0,1032.0 C913.8,1036.2 916.3,1040.3 918.0,1045.0 C919.7,1049.7 919.7,1057.5 920.0,1060.0" stroke-width="1.7"/>
<path class="p" d="M669.0,1054.0 C670.2,1051.8 672.5,1045.2 676.0,1041.0 C679.5,1036.8 684.0,1033.0 690.0,1029.0 C696.0,1025.0 703.7,1020.3 712.0,1017.0 C720.3,1013.7 729.5,1011.2 740.0,1009.0 C750.5,1006.8 764.2,1005.2 775.0,1004.0 C785.8,1002.8 794.2,1001.6 805.0,1001.5 C815.8,1001.4 829.5,1002.1 840.0,1003.5 C850.5,1004.9 859.7,1006.9 868.0,1010.0 C876.3,1013.1 884.0,1018.0 890.0,1022.0 C896.0,1026.0 900.5,1030.0 904.0,1034.0 C907.5,1038.0 909.8,1044.0 911.0,1046.0" stroke-width="1.1"/>
<path class="p" d="M669.0,1053.0 C670.0,1054.5 672.5,1059.3 675.0,1062.0 C677.5,1064.7 678.2,1066.2 684.0,1069.0 C689.8,1071.8 700.7,1076.5 710.0,1079.0 C719.3,1081.5 730.0,1082.8 740.0,1084.0 C750.0,1085.2 760.0,1085.7 770.0,1086.0 C780.0,1086.3 786.7,1087.3 800.0,1086.0 C813.3,1084.7 836.7,1081.0 850.0,1078.0 C863.3,1075.0 871.7,1071.8 880.0,1068.0 C888.3,1064.2 895.0,1059.7 900.0,1055.0 C905.0,1050.3 908.0,1044.2 910.0,1040.0 C912.0,1035.8 911.7,1031.7 912.0,1030.0" stroke-width="1.4"/>
<path class="p" d="M669.0,1072.0 C673.2,1074.3 685.5,1082.5 694.0,1086.0 C702.5,1089.5 712.3,1091.3 720.0,1093.0 C727.7,1094.7 731.7,1095.2 740.0,1096.0 C748.3,1096.8 760.0,1097.7 770.0,1098.0 C780.0,1098.3 785.0,1099.5 800.0,1098.0 C815.0,1096.5 845.0,1092.5 860.0,1089.0 C875.0,1085.5 881.7,1081.3 890.0,1077.0 C898.3,1072.7 905.7,1067.2 910.0,1063.0 C914.3,1058.8 915.0,1053.8 916.0,1052.0" stroke-width="1.3"/>
<path class="p" d="M650.0,1084.0 C651.3,1085.3 654.7,1089.3 658.0,1092.0 C661.3,1094.7 663.0,1096.5 670.0,1100.0 C677.0,1103.5 688.3,1109.5 700.0,1113.0 C711.7,1116.5 727.5,1119.0 740.0,1121.0 C752.5,1123.0 765.0,1124.2 775.0,1125.0 C785.0,1125.8 789.2,1126.7 800.0,1126.0 C810.8,1125.3 826.7,1123.7 840.0,1121.0 C853.3,1118.3 869.2,1113.8 880.0,1110.0 C890.8,1106.2 898.3,1102.0 905.0,1098.0 C911.7,1094.0 917.5,1088.0 920.0,1086.0" stroke-width="3.4"/>
<path class="p" d="M653.0,1081.0 C655.8,1083.5 662.2,1091.3 670.0,1096.0 C677.8,1100.7 688.3,1105.5 700.0,1109.0 C711.7,1112.5 727.5,1115.0 740.0,1117.0 C752.5,1119.0 765.0,1120.2 775.0,1121.0 C785.0,1121.8 789.2,1122.7 800.0,1122.0 C810.8,1121.3 826.7,1119.7 840.0,1117.0 C853.3,1114.3 869.2,1109.8 880.0,1106.0 C890.8,1102.2 898.5,1097.8 905.0,1094.0 C911.5,1090.2 916.7,1084.8 919.0,1083.0" stroke-width="1.0"/>
<path class="ld" d="M920,1050 L920.5,1087" stroke-width="1.5" style="stroke:#161616"/>
<path class="ld" d="M660,1060 L652,1083" stroke-width="1.5" style="stroke:#161616"/>
<path d="M659.5,1062 Q660,1056 664.5,1056.5 Q669.5,1057 669,1063 L668,1092 L660,1089 Z" fill="#e4e4e4" stroke="#161616" stroke-width="2.2"/>
<path d="M662,1064 L667,1064 L667,1070 L662,1070 Z" fill="#fff" stroke="#161616" stroke-width="0.8"/>
<path d="M737,1119 L739.5,1097 Q742,1088 752,1088 Q762,1088 764,1097 L766.5,1122" fill="#fff" stroke="#161616" stroke-width="1.8"/>
<path d="M743,1119 L744.5,1099 Q746,1093 752,1093 Q758,1093 759,1099 L760.5,1121" fill="none" stroke="#161616" stroke-width="1.3"/>
<circle cx="749" cy="1100" r="1.6" fill="#161616"/>
<circle cx="749" cy="1111" r="1.6" fill="#161616"/>
<circle cx="724" cy="1099" r="1.5" fill="#161616"/>
<circle cx="673" cy="1080" r="1.5" fill="#161616"/>
<path class="p" d="M694.0,1085.0 C694.5,1083.8 695.5,1080.5 697.0,1078.0 C698.5,1075.5 700.5,1072.5 703.0,1070.0 C705.5,1067.5 708.8,1064.9 712.0,1063.0 C715.2,1061.1 718.2,1059.8 722.0,1058.5 C725.8,1057.2 732.8,1055.6 735.0,1055.0" stroke-width="1.2"/>
<ellipse cx="797" cy="1043" rx="78" ry="22" fill="none" stroke="#161616" stroke-width="1.2" transform="rotate(0 797 1043)"/>
<ellipse cx="795" cy="1042.25" rx="73" ry="20.75" fill="none" stroke="#161616" stroke-width="1.1" transform="rotate(0 795 1042.25)"/>
<ellipse cx="794" cy="1041.5" rx="67" ry="19.5" fill="none" stroke="#161616" stroke-width="1.1" transform="rotate(0 794 1041.5)"/>
<ellipse cx="791" cy="1040.75" rx="59" ry="18.25" fill="none" stroke="#161616" stroke-width="1.2" transform="rotate(0 791 1040.75)"/>
<ellipse cx="788.5" cy="1040.25" rx="51.5" ry="16.75" fill="none" stroke="#161616" stroke-width="2.0" transform="rotate(0 788.5 1040.25)"/>
<ellipse cx="790.5" cy="1040" rx="42.5" ry="15" fill="none" stroke="#161616" stroke-width="2.3" transform="rotate(0 790.5 1040)"/>
<ellipse cx="790.5" cy="1039.75" rx="38.5" ry="12.25" fill="none" stroke="#161616" stroke-width="1.2" transform="rotate(0 790.5 1039.75)"/>
<path class="p" d="M822.0,1024.0 C823.3,1023.4 827.3,1020.8 830.0,1020.5 C832.7,1020.2 835.3,1020.9 838.0,1022.0 C840.7,1023.1 843.0,1024.7 846.0,1027.0 C849.0,1029.3 853.8,1033.7 856.0,1036.0 C858.2,1038.3 859.7,1040.2 859.0,1041.0 C858.3,1041.8 854.3,1040.5 852.0,1041.0 C849.7,1041.5 847.0,1042.8 845.0,1044.0 C843.0,1045.2 840.8,1047.3 840.0,1048.0" stroke-width="1.6"/>
<path d="M846,1040 L856,1038 L857,1046 L850,1050 Z" fill="#161616"/>
<path class="ld" d="M841,1023 L852,1011" stroke-width="1.45"/>
<path class="ld" d="M760,1041 L800,1040.5" stroke-width="1.4"/>
<path class="p" d="M801.0,1003.5 C806.7,1003.7 825.2,1003.2 835.0,1004.5 C844.8,1005.8 853.8,1008.2 860.0,1011.0 C866.2,1013.8 869.5,1017.7 872.0,1021.0 C874.5,1024.3 875.3,1027.8 875.0,1031.0 C874.7,1034.2 872.5,1037.3 870.0,1040.0 C867.5,1042.7 861.7,1045.8 860.0,1047.0" stroke-width="1.2"/>
<path class="p" d="M803.0,1010.0 C807.8,1010.2 823.7,1009.8 832.0,1011.0 C840.3,1012.2 847.7,1014.5 853.0,1017.0 C858.3,1019.5 861.8,1023.3 864.0,1026.0 C866.2,1028.7 866.5,1030.5 866.0,1033.0 C865.5,1035.5 861.8,1039.7 861.0,1041.0" stroke-width="1.1"/>
<path d="M800,996.5 Q830,996.5 856,1003" fill="none" stroke="#161616" stroke-width="2.6"/>
<ellipse cx="689" cy="1065" rx="6" ry="3.8" fill="#161616" transform="rotate(-20 689 1065)"/>
<ellipse cx="715" cy="1076" rx="6" ry="3.8" fill="#161616" transform="rotate(-20 715 1076)"/>
<path d="M727,1064.5 L728.5,1067.5 L731.5,1067.5 L729.3,1069.8 L730.5,1073 L727,1071.3 L723.5,1073 L724.7,1069.8 L722.5,1067.5 L725.5,1067.5 Z" fill="#161616"/>
<path d="M696,1019 L701,1013 L722,1010 L723,1015 L706,1022 Z" fill="#161616"/>
<path class="p" d="M682,1030.5 L692,1026 M726,1008.5 L739,1006" stroke-width="3.0"/>
<path class="ld" d="M811,985 L811,1010" stroke-width="1.5" style="stroke:#333"/>
<path class="ld" d="M861,991 L861,1005" stroke-width="1.5" style="stroke:#333"/>
<path class="ld" d="M881,1000 L881,1043" stroke-width="1.5" style="stroke:#333"/>
<path class="ld" d="M892.5,1008 L892.5,1048" stroke-width="1.5" style="stroke:#333"/>
<circle cx="811" cy="1002" r="2.2" fill="#161616"/>
<path d="M884,1024 Q892,1022 896,1030 L893,1036 Q888,1030 882,1031 Z" fill="#161616"/>
<path class="p" d="M878.0,1018.0 C879.7,1018.5 885.0,1019.2 888.0,1021.0 C891.0,1022.8 894.3,1026.5 896.0,1029.0 C897.7,1031.5 897.7,1034.8 898.0,1036.0" stroke-width="2.2"/>
<path class="p" d="M919.0,1064.0 L952.0,1076.0 L921.0,1084.0" stroke-width="1.5"/>
<path d="M924,1069 L946,1076 L925,1081" fill="none" stroke="#161616" stroke-width="1.6" stroke-dasharray="2.5 2.5"/>
<circle cx="920" cy="1065" r="2.0" fill="#161616"/>
<path d="M492.0,626.0 L540.0,624.0 L603.0,628.0 L626.0,628.0 L628.0,660.0 L622.0,682.0 L604.0,683.0 L600.0,690.0 L560.0,700.0 L544.0,692.0 L530.0,684.0 L505.0,676.0 L492.0,664.0 Z" fill="#161616"/>
<path d="M490.0,610.0 C488.2,607.3 491.5,604.4 494.0,601.0 C496.5,597.6 500.3,593.3 505.0,589.5 C509.7,585.7 516.3,581.3 522.0,578.0 C527.7,574.7 533.0,572.2 539.0,569.5 C545.0,566.8 550.3,563.9 558.0,562.0 C565.7,560.1 576.0,557.7 585.0,558.0 C594.0,558.3 605.2,561.8 612.0,564.0 C618.8,566.2 619.7,567.2 626.0,571.0 C632.3,574.8 645.3,582.8 650.0,587.0 C654.7,591.2 653.3,592.8 654.0,596.0 C654.7,599.2 655.0,603.2 654.0,606.0 C653.0,608.8 652.8,611.2 648.0,613.0 C643.2,614.8 636.0,615.3 625.0,617.0 C614.0,618.7 595.3,621.2 582.0,623.0 C568.7,624.8 554.5,628.0 545.0,628.0 C535.5,628.0 531.7,624.8 525.0,623.0 C518.3,621.2 510.8,619.2 505.0,617.0 C499.2,614.8 491.8,612.7 490.0,610.0 Z" fill="#fff" stroke="#161616" stroke-width="2.6" stroke-linejoin="round"/>
<path d="M625.0,616.0 L648.0,612.5 L647.0,622.0 L640.0,631.0 L638.0,648.0 L627.0,655.0 L625.0,640.0 Z" fill="#161616"/>
<path d="M525.0,623.0 L545.0,628.0 L625.0,617.0 L625.0,632.0 L560.0,640.0 L530.0,634.0 Z" fill="#fff" stroke="#161616" stroke-width="1.6" stroke-linejoin="round"/>
<path d="M534.0,612.0 L575.0,606.5 L576.0,611.5 L536.0,618.0 Z" fill="#161616"/>
<path class="p" d="M530,619 L577,612 M578,606 L650,597 M580,611 L648,603" stroke-width="1.3"/>
<path class="p" d="M583,611 L583,640 M573,625 L574,640" stroke-width="1.1"/>
<path class="p" d="M494.0,603.0 C496.3,604.0 503.2,607.3 508.0,609.0 C512.8,610.7 518.8,612.7 523.0,613.0 C527.2,613.3 529.3,612.7 533.0,611.0 C536.7,609.3 540.5,605.7 545.0,603.0 C549.5,600.3 550.8,597.3 560.0,595.0 C569.2,592.7 588.3,590.2 600.0,589.0 C611.7,587.8 621.7,587.8 630.0,588.0 C638.3,588.2 646.7,589.7 650.0,590.0" stroke-width="1.5"/>
<path class="p" d="M505.0,590.0 C507.5,591.0 515.7,594.3 520.0,596.0 C524.3,597.7 527.3,600.0 531.0,600.0 C534.7,600.0 540.2,596.7 542.0,596.0" stroke-width="1.2"/>
<path class="p" d="M522.0,578.0 C524.3,579.0 531.7,582.2 536.0,584.0 C540.3,585.8 546.0,588.2 548.0,589.0" stroke-width="1.2"/>
<path class="p" d="M540.0,572.0 C542.0,573.0 547.7,576.7 552.0,578.0 C556.3,579.3 558.0,579.2 566.0,580.0 C574.0,580.8 590.7,583.0 600.0,583.0 C609.3,583.0 617.3,581.5 622.0,580.0 C626.7,578.5 627.0,575.0 628.0,574.0" stroke-width="1.3"/>
<path class="p" d="M511.0,601.0 C512.0,601.7 514.3,604.2 517.0,605.0 C519.7,605.8 523.2,607.2 527.0,606.0 C530.8,604.8 535.2,600.7 540.0,598.0 C544.8,595.3 546.0,592.2 556.0,590.0 C566.0,587.8 592.7,585.8 600.0,585.0" stroke-width="1.0"/>
<ellipse cx="527.5" cy="583" rx="3.6" ry="1.8" fill="#fff" stroke="#161616" stroke-width="1.6" transform="rotate(-8 527.5 583)"/>
<ellipse cx="549" cy="593.5" rx="3.6" ry="1.8" fill="#fff" stroke="#161616" stroke-width="1.6" transform="rotate(-8 549 593.5)"/>
<ellipse cx="577" cy="574.5" rx="41.5" ry="15.3" fill="#fff" stroke="#161616" stroke-width="1.6" transform="rotate(3 577 574.5)"/>
<ellipse cx="576.8" cy="574.2" rx="39" ry="14.2" fill="none" stroke="#161616" stroke-width="1.2" transform="rotate(3 576.8 574.2)"/>
<ellipse cx="576.7" cy="573.5" rx="36.5" ry="13" fill="#161616" stroke="#161616" stroke-width="1" transform="rotate(3 576.7 573.5)"/>
<ellipse cx="575.8" cy="573.2" rx="10" ry="2.9" fill="#fff" stroke="#fff" stroke-width="0" transform="rotate(16 575.8 573.2)"/>
<path d="M573.5,551.5 L580.0,545.0 L599.0,558.5 L600.5,561.5 L590.5,564.5 L578.5,555.5 Z" fill="#fff" stroke="#161616" stroke-width="2.4" stroke-linejoin="round"/>
<path class="p" d="M582,548 L596,560 M577,553 L585,570" stroke-width="1.6"/>
<path d="M576.0,556.0 L581.0,560.0 L586.0,571.0 L580.0,568.0 Z" fill="#161616"/>
<path d="M625.0,579.0 C624.7,577.2 626.7,574.7 627.0,572.0 C627.3,569.3 626.2,565.2 627.0,563.0 C627.8,560.8 629.5,559.8 632.0,559.0 C634.5,558.2 639.1,558.2 642.0,558.5 C644.9,558.8 648.1,559.4 649.5,561.0 C650.9,562.6 650.2,565.3 650.5,568.0 C650.8,570.7 651.4,574.7 651.0,577.0 C650.6,579.3 650.2,580.8 648.0,582.0 C645.8,583.2 641.2,583.8 638.0,584.0 C634.8,584.2 631.2,583.8 629.0,583.0 C626.8,582.2 625.3,580.8 625.0,579.0 Z" fill="#fff" stroke="#161616" stroke-width="2.2" stroke-linejoin="round"/>
<ellipse cx="638.5" cy="562.5" rx="12" ry="4.4" fill="#161616" stroke="#161616" stroke-width="1.6" transform="rotate(3 638.5 562.5)"/>
<ellipse cx="638.5" cy="561.4" rx="8.5" ry="1.6" fill="none" stroke="#999" stroke-width="0.9" transform="rotate(3 638.5 561.4)"/>
<path d="M626.5,562.0 L650.5,563.0 L650.5,569.5 L626.5,568.5 Z" fill="#161616"/>
<path class="p" d="M631,566 L631,576" stroke-width="1.6"/>
<path class="p" d="M635.5,566 L635.5,576" stroke-width="1.6"/>
<path class="p" d="M640,566 L640,576" stroke-width="1.6"/>
<path class="p" d="M644.5,566 L644.5,576" stroke-width="1.6"/>
<path class="p" d="M648,566 L648,576" stroke-width="1.6"/>
<path class="p" d="M626.0,576.0 C627.0,576.6 629.7,578.8 632.0,579.5 C634.3,580.2 637.0,580.8 640.0,580.5 C643.0,580.2 648.3,578.4 650.0,578.0" stroke-width="2.4"/>
<path class="p" d="M625.0,580.0 C626.2,580.8 629.2,583.6 632.0,584.5 C634.8,585.4 638.7,585.9 642.0,585.5 C645.3,585.1 650.3,582.6 652.0,582.0" stroke-width="1.6"/>
<path class="p" d="M652,592 L654,606 M645,590 L646,612 M630,586 L640,592 L652,592" stroke-width="1.3"/>
<path class="p" d="M627.0,633.0 C628.2,633.5 632.2,634.2 634.0,636.0 C635.8,637.8 637.8,641.5 638.0,644.0 C638.2,646.5 636.8,649.2 635.0,651.0 C633.2,652.8 628.3,654.3 627.0,655.0" stroke-width="2.2"/>
<path class="ti" d="M628.0,637.0 C628.7,637.5 631.1,638.7 632.0,640.0 C632.9,641.3 633.7,643.5 633.5,645.0 C633.3,646.5 632.1,648.0 631.0,649.0 C629.9,650.0 627.7,650.7 627.0,651.0" stroke-width="1.6"/>
<path class="ti" d="M629,621 L644,618.5 M631,626 L641,624.5" stroke-width="1.3"/>
<path d="M481.0,632.0 C481.4,625.4 481.7,626.2 483.0,624.5 C484.3,622.8 485.3,622.0 489.0,621.5 C492.7,621.0 501.7,620.8 505.0,621.5 C508.3,622.2 508.5,622.9 509.0,626.0 C509.5,629.1 508.7,633.0 508.0,640.0 C507.3,647.0 506.8,663.0 505.0,668.0 C503.2,673.0 500.3,669.6 497.0,670.0 C493.7,670.4 487.8,671.5 485.0,670.5 C482.2,669.5 481.2,670.4 480.5,664.0 C479.8,657.6 480.6,638.6 481.0,632.0 Z" fill="#fff" stroke="#161616" stroke-width="2.6" stroke-linejoin="round"/>
<path class="p" d="M486,630 L488,625.5 L503,625.5" stroke-width="1.1"/>
<path d="M494.0,629.0 L503.0,627.0 L508.0,640.0 L505.0,668.0 L498.0,668.0 L496.0,655.0 L493.0,640.0 Z" fill="#161616"/>
<path class="ti" d="M499.0,633.0 C498.7,635.0 496.8,640.8 497.0,645.0 C497.2,649.2 499.5,655.8 500.0,658.0" stroke-width="2.0"/>
<path d="M483.0,668.5 L492.0,668.0 L492.0,672.0 L484.0,672.5 Z" fill="#161616"/>
<path d="M504.5,648.0 L522.0,645.0 L523.5,674.0 L519.0,678.0 L505.0,672.0 Z" fill="#161616"/>
<path class="ti" d="M506.5,652.5 L520.5,650.1" stroke-width="0.9"/>
<path class="ti" d="M506.5,657.1 L520.5,654.7" stroke-width="0.9"/>
<path class="ti" d="M506.5,661.7 L520.5,659.3" stroke-width="0.9"/>
<path class="ti" d="M506.5,666.3 L520.5,663.9" stroke-width="0.9"/>
<path class="ti" d="M506.5,670.9 L520.5,668.5" stroke-width="0.9"/>
<path d="M523.0,647.0 L528.5,646.0 L530.5,668.0 L525.0,674.0 Z" fill="#fff" stroke="#161616" stroke-width="1.0" stroke-linejoin="round"/>
<path class="ti" d="M510,632 L513,642 M516,628 L520,640 M531,640 L533,684" stroke-width="1.4"/>
<path class="ti" d="M536,650 L540,652 L540,676" stroke-width="1.3"/>
<path d="M544.0,649.0 C544.9,644.9 546.3,646.4 549.0,645.5 C551.7,644.6 552.0,644.2 560.0,643.5 C568.0,642.8 590.0,641.2 597.0,641.5 C604.0,641.8 601.0,641.9 602.0,645.0 C603.0,648.1 603.0,654.2 603.0,660.0 C603.0,665.8 603.2,675.7 602.0,680.0 C600.8,684.3 599.3,684.1 596.0,686.0 C592.7,687.9 587.8,689.5 582.0,691.5 C576.2,693.5 565.8,697.2 561.0,698.0 C556.2,698.8 555.7,697.2 553.0,696.0 C550.3,694.8 546.6,694.8 545.0,690.5 C543.4,686.2 543.7,676.9 543.5,670.0 C543.3,663.1 543.1,653.1 544.0,649.0 Z" fill="#fff" stroke="#161616" stroke-width="2.4" stroke-linejoin="round"/>
<path d="M553.0,641.5 L596.0,638.5 L600.0,642.0 L560.0,646.0 L551.0,648.0 Z" fill="#161616"/>
<path d="M559.5,658.0 C559.9,652.8 556.9,655.8 563.0,654.5 C569.1,653.2 589.8,650.6 596.0,650.5 C602.2,650.4 599.2,649.8 600.0,654.0 C600.8,658.2 601.0,671.5 600.5,676.0 C600.0,680.5 602.8,678.9 597.0,681.0 C591.2,683.1 572.1,687.7 566.0,688.5 C559.9,689.3 561.6,691.1 560.5,686.0 C559.4,680.9 559.1,663.2 559.5,658.0 Z" fill="#fff" stroke="#161616" stroke-width="2.6" stroke-linejoin="round"/>
<path class="p" d="M549,648 L552,694 M554,647 L557,696.5" stroke-width="1.3"/>
<path class="p" d="M567.0,668.0 C567.2,667.0 567.0,663.4 568.0,662.0 C569.0,660.6 570.5,660.1 573.0,659.5 C575.5,658.9 581.3,658.7 583.0,658.5" stroke-width="2.4"/>
<path class="p" d="M567.5,668.5 L583,667.5 L583,658.5" stroke-width="2.2"/>
<path class="p" d="M564.5,682 L566,680 L582,677.5 L582.5,679.5" stroke-width="2.0"/>
<path d="M586.5,655.5 L597.0,654.5 L597.5,675.0 L587.0,677.0 Z" fill="#fff" stroke="#161616" stroke-width="2.2" stroke-linejoin="round"/>
<path class="ti" d="M606,632 L606,676 M611,640 L616,652 L612,664 M619,636 L621,672" stroke-width="1.2"/>
<path d="M604.0,676.0 L617.0,673.0 L618.0,680.0 L605.0,683.0 Z" fill="#fff" stroke="#161616" stroke-width="1.2" stroke-linejoin="round"/>
<path d="M545.0,629.0 L582.0,624.0 L582.0,639.0 L548.0,644.0 Z" fill="#fff" stroke="#161616" stroke-width="1.3" stroke-linejoin="round"/>
<path d="M585.0,627.0 L604.0,625.0 L604.0,634.0 L590.0,636.0 L585.0,640.0 Z" fill="#fff" stroke="#161616" stroke-width="1.2" stroke-linejoin="round"/>
<path d="M571.5,693.0 L580.0,691.0 L580.0,705.0 L571.5,705.0 Z" fill="#fff" stroke="#161616" stroke-width="2.0" stroke-linejoin="round"/>
<path class="p" d="M536,685 L534,693 L531,695" stroke-width="1.3"/>
<path class="p" d="M546,692 L552,697 L560,700" stroke-width="2.4"/>
<circle cx="484" cy="667.5" r="2.2" fill="#161616"/>
<path class="ld" d="M499,721 L499,781" stroke-width="1.5" style="stroke:#444"/>
<path class="p" d="M499,759 L499,768" stroke-width="2.8"/>
<circle cx="499" cy="771" r="3.0" fill="#161616"/>
<path class="ld" d="M519.5,721 L519.5,781" stroke-width="1.5" style="stroke:#444"/>
<path class="p" d="M519.5,759 L519.5,768" stroke-width="2.8"/>
<circle cx="519.5" cy="771" r="3.0" fill="#161616"/>
<path class="ld" d="M541,721 L541,781" stroke-width="1.5" style="stroke:#444"/>
<path class="p" d="M541,759 L541,768" stroke-width="2.8"/>
<circle cx="541" cy="771" r="3.0" fill="#161616"/>
<path class="ld" d="M167.5,1254 L333,1291.5" stroke-width="1.55"/>
<path class="ld" d="M472,1322.5 L632.5,1359" stroke-width="1.55"/>
<path class="ld" d="M1110,1147.5 L1233,1176" stroke-width="1.55"/>
<path class="ld" d="M1390,1211.5 L1557.5,1249" stroke-width="1.55"/>
<ellipse cx="239.5" cy="1270" rx="30.5" ry="39.5" fill="#fff" stroke="#fff" stroke-width="0" transform="rotate(-3 239.5 1270)"/>
<path d="M240.5,1310.0 L239.0,1309.7 L237.6,1308.8 L236.3,1307.9 L235.0,1307.3 L233.6,1307.2 L231.9,1307.4 L230.3,1307.5 L228.7,1307.1 L227.5,1306.0 L226.5,1304.5 L225.7,1302.9 L224.7,1301.7 L223.3,1300.8 L221.6,1300.3 L219.9,1299.6 L218.6,1298.5 L217.8,1296.8 L217.4,1294.9 L217.2,1292.9 L216.7,1291.2 L215.6,1289.8 L214.1,1288.5 L212.6,1287.2 L211.6,1285.5 L211.3,1283.6 L211.7,1281.5 L212.1,1279.5 L212.1,1277.6 L211.5,1275.8 L210.4,1274.0 L209.3,1272.1 L208.9,1270.2 L209.2,1268.2 L210.2,1266.4 L211.2,1264.5 L211.7,1262.7 L211.6,1260.8 L211.1,1258.8 L210.7,1256.8 L210.8,1254.9 L211.7,1253.2 L213.1,1251.8 L214.5,1250.5 L215.6,1249.0 L216.0,1247.3 L216.1,1245.4 L216.4,1243.5 L217.1,1241.8 L218.4,1240.7 L220.1,1240.0 L221.7,1239.3 L223.0,1238.5 L224.0,1237.2 L224.8,1235.7 L225.6,1234.2 L226.8,1233.1 L228.3,1232.7 L230.0,1232.7 L231.6,1232.9 L233.0,1232.8 L234.3,1232.2 L235.6,1231.2 L237.0,1230.3 L238.5,1230.0" fill="none" stroke="#161616" stroke-width="3.00" stroke-linejoin="round"/>
<path d="M243.4,1306.9 L242.3,1306.3 L241.4,1305.2 L240.5,1304.0 L239.6,1303.2 L238.5,1303.0 L237.1,1303.2 L235.7,1303.2 L234.5,1302.8 L233.6,1301.7 L233.1,1300.1 L232.7,1298.5 L232.1,1297.3 L231.0,1296.5 L229.5,1296.1 L228.1,1295.5 L227.0,1294.5 L226.5,1293.0 L226.5,1291.2 L226.6,1289.4 L226.3,1287.9 L225.4,1286.7 L224.1,1285.7 L222.7,1284.5 L221.9,1283.1 L221.8,1281.4 L222.4,1279.6 L222.9,1277.8 L223.0,1276.2 L222.5,1274.7 L221.4,1273.3 L220.3,1271.7 L219.9,1270.1 L220.3,1268.4 L221.2,1266.8 L222.2,1265.3 L222.7,1263.8 L222.5,1262.2 L221.8,1260.5 L221.2,1258.7 L221.2,1257.0 L221.9,1255.6 L223.2,1254.4 L224.5,1253.3 L225.3,1252.1 L225.5,1250.6 L225.3,1248.9 L225.2,1247.1 L225.6,1245.6 L226.6,1244.6 L228.1,1244.0 L229.5,1243.5 L230.5,1242.7 L231.1,1241.5 L231.4,1239.9 L231.8,1238.4 L232.6,1237.3 L233.8,1236.8 L235.2,1236.9 L236.6,1237.0 L237.7,1236.8 L238.6,1236.0 L239.4,1234.8 L240.3,1233.7 L241.3,1233.1" fill="none" stroke="#161616" stroke-width="2.80" stroke-linejoin="round"/>
<path d="M238.1,1305.7 L235.8,1304.9 L233.6,1303.8 L231.4,1302.4 L229.4,1300.8 L227.4,1298.9 L225.6,1296.8 L223.9,1294.5 L222.3,1292.0 L220.9,1289.3 L219.7,1286.4 L218.7,1283.5 L217.8,1280.4 L217.2,1277.2 L216.7,1274.0 L216.5,1270.7 L216.5,1267.5 L216.7,1264.2 L217.1,1261.0 L217.6,1257.9 L218.4,1254.9 L219.4,1251.9 L220.6,1249.2 L221.9,1246.6 L223.5,1244.2 L225.1,1242.0 L226.9,1240.0 L228.9,1238.3 L230.9,1236.8 L233.0,1235.6 L235.2,1234.6" fill="none" stroke="#161616" stroke-width="4.20" stroke-dasharray="3.00 5.20"/>
<path d="M232.2,1231.4 L235.7,1230.7 L239.2,1230.5 L242.8,1230.9 L246.3,1231.8 L249.7,1233.1 L252.9,1235.0 L256.0,1237.4 L258.9,1240.2 L261.5,1243.4 L263.8,1247.0 L265.8,1250.9 L267.4,1255.0 L268.7,1259.3 L269.5,1263.8 L270.0,1268.4 L270.0,1273.0 L269.6,1277.5 L268.8,1282.0 L267.6,1286.3 L266.1,1290.3 L264.2,1294.1 L261.9,1297.6 L259.3,1300.7 L256.5,1303.4 L253.5,1305.6 L250.2,1307.3 L246.8,1308.6 L243.3,1309.3 L239.8,1309.5 L236.2,1309.1" fill="none" stroke="#161616" stroke-width="2.60"/>
<path d="M226.9,1240.6 L229.1,1239.0 L231.5,1237.8 L233.9,1236.8 L236.3,1236.2 L238.9,1236.0 L241.4,1236.2 L243.9,1236.7 L246.4,1237.5 L248.8,1238.7 L251.1,1240.2 L253.3,1242.1 L255.3,1244.2 L257.2,1246.6 L258.9,1249.3 L260.4,1252.2 L261.7,1255.2 L262.8,1258.5 L263.6,1261.8 L264.2,1265.2 L264.5,1268.7 L264.5,1272.2 L264.3,1275.7 L263.8,1279.1 L263.1,1282.4 L262.2,1285.6 L261.0,1288.6 L259.6,1291.4 L257.9,1294.0 L256.1,1296.4 L254.1,1298.4 L252.0,1300.2 L249.7,1301.6 L247.4,1302.7 L244.9,1303.5 L242.4,1303.9 L239.9,1304.0 L237.4,1303.6 L234.9,1303.0 L232.4,1301.9 L230.1,1300.6" fill="none" stroke="#161616" stroke-width="10.50" stroke-dasharray="2.30 8.60"/>
<path d="M227.4,1247.8 L229.6,1245.3 L232.0,1243.3 L234.6,1241.9 L237.2,1241.2 L240.0,1241.1 L242.7,1241.6 L245.4,1242.7 L248.0,1244.5 L250.4,1246.8 L252.6,1249.7 L254.4,1252.9 L256.0,1256.6 L257.2,1260.6 L258.0,1264.7 L258.5,1269.0 L258.5,1273.3 L258.1,1277.6 L257.3,1281.6 L256.1,1285.4 L254.6,1288.9 L252.8,1292.0 L250.6,1294.5 L248.3,1296.5 L245.7,1298.0 L243.0,1298.8 L240.3,1299.0 L237.5,1298.5 L234.8,1297.4 L232.2,1295.7 L229.8,1293.4" fill="none" stroke="#161616" stroke-width="2.20"/>
<ellipse cx="242.0" cy="1270.5" rx="13.5" ry="27.5" fill="#161616" stroke="#161616" stroke-width="0" transform="rotate(-3 242.0 1270.5)"/>
<path d="M235.6,1297.7 L233.8,1296.9 L232.1,1295.5 L230.4,1293.7 L228.9,1291.5 L227.5,1288.9 L226.2,1285.9 L225.2,1282.6 L224.4,1279.1 L223.8,1275.4 L223.5,1271.7 L223.4,1267.9 L223.6,1264.2 L224.1,1260.7 L224.7,1257.3 L225.6,1254.2 L226.8,1251.4 L228.1,1249.0 L229.5,1247.1 L231.1,1245.6 L232.9,1244.6" fill="none" stroke="#161616" stroke-width="4.50"/>
<path d="M238.0,1257.5 q2.0,-9.0 9.0,-11.5 q5.0,3.0 6.0,9.0 l-9.0,4.0 z M232.0,1264.5 l12.0,2.0 l-0.6,2.4 l-12.0,-2.0 z M231.5,1269.0 l12.0,2.0 l-0.6,2.4 l-12.0,-2.0 z M232.0,1276.5 l9.0,1.5 l-1.0,8.0 l-6.0,-1.0 z M237.5,1285.5 l3.0,0.6 l-0.3,10.5 l-2.6,-1.5 z M242.2,1286.1 l3.0,0.6 l-0.5,9.5 l-2.6,0.6 z" fill="#fff"/>
<path d="M240.0,1250.5 l7.0,-4.0 M241.0,1254.5 l9.0,-5.0" stroke="#161616" stroke-width="1.80" fill="none"/>
<ellipse cx="538.5" cy="1337.5" rx="30.5" ry="39.0" fill="#fff" stroke="#fff" stroke-width="0" transform="rotate(-5 538.5 1337.5)"/>
<path d="M548.2,1375.5 L546.9,1375.7 L545.5,1375.4 L544.2,1375.1 L543.0,1375.0 L541.9,1375.4 L540.7,1376.1 L539.4,1376.8 L538.2,1377.0 L536.9,1376.6 L535.8,1375.8 L534.7,1374.9 L533.6,1374.3 L532.3,1374.2 L530.9,1374.3 L529.5,1374.4 L528.2,1374.1 L527.1,1373.2 L526.3,1371.9 L525.6,1370.6 L524.7,1369.5 L523.5,1368.9 L522.0,1368.5 L520.5,1368.0 L519.3,1367.2 L518.5,1365.8 L518.2,1364.2 L517.9,1362.6 L517.4,1361.2 L516.3,1360.1 L514.9,1359.2 L513.5,1358.2 L512.5,1357.0 L512.2,1355.4 L512.3,1353.6 L512.5,1351.9 L512.3,1350.3 L511.6,1348.9 L510.4,1347.6 L509.3,1346.2 L508.6,1344.6 L508.7,1343.0 L509.3,1341.3 L509.9,1339.6 L510.2,1338.0 L509.8,1336.4 L509.0,1334.8 L508.2,1333.2 L508.0,1331.5 L508.5,1329.9 L509.5,1328.5 L510.5,1327.1 L511.1,1325.6 L511.2,1324.1 L510.8,1322.4 L510.5,1320.6 L510.8,1319.1 L511.6,1317.8 L512.9,1316.7 L514.2,1315.7 L515.1,1314.6 L515.5,1313.2 L515.7,1311.6 L515.9,1310.0 L516.6,1308.6 L517.7,1307.7 L519.1,1307.2 L520.5,1306.7 L521.7,1306.0 L522.5,1305.0 L523.1,1303.6 L523.8,1302.3 L524.8,1301.4 L526.0,1301.0 L527.5,1301.0 L528.8,1301.1 L530.1,1300.9 L531.1,1300.3 L532.1,1299.4 L533.3,1298.5 L534.5,1298.1 L535.8,1298.3 L537.0,1298.9 L538.2,1299.5 L539.4,1299.9 L540.6,1299.8 L541.9,1299.4 L543.3,1299.0 L544.6,1299.1" fill="none" stroke="#161616" stroke-width="2.60" stroke-linejoin="round"/>
<path d="M545.6,1375.6 L544.6,1375.2 L543.7,1374.3 L542.9,1373.4 L542.0,1372.8 L541.1,1372.9 L540.0,1373.3 L538.8,1373.7 L537.8,1373.5 L537.0,1372.7 L536.4,1371.5 L535.8,1370.2 L535.2,1369.3 L534.2,1368.9 L532.9,1368.9 L531.7,1368.8 L530.6,1368.2 L530.0,1367.1 L529.8,1365.6 L529.6,1364.1 L529.1,1362.9 L528.2,1362.2 L526.9,1361.7 L525.7,1361.1 L524.7,1360.1 L524.4,1358.8 L524.5,1357.2 L524.7,1355.6 L524.5,1354.2 L523.7,1353.1 L522.5,1352.2 L521.3,1351.2 L520.6,1350.0 L520.6,1348.5 L521.1,1347.0 L521.6,1345.4 L521.7,1344.0 L521.1,1342.7 L520.1,1341.5 L519.1,1340.2 L518.7,1338.8 L518.9,1337.3 L519.7,1335.9 L520.5,1334.5 L520.9,1333.2 L520.6,1331.8 L519.9,1330.3 L519.2,1328.8 L519.1,1327.4 L519.6,1326.1 L520.6,1325.0 L521.7,1323.9 L522.3,1322.8 L522.3,1321.4 L521.9,1319.9 L521.6,1318.3 L521.7,1316.9 L522.5,1315.9 L523.7,1315.2 L524.9,1314.5 L525.7,1313.7 L526.0,1312.5 L526.0,1311.0 L526.0,1309.5 L526.5,1308.3 L527.4,1307.7 L528.6,1307.4 L529.8,1307.2 L530.8,1306.8 L531.3,1305.8 L531.7,1304.5 L532.1,1303.2 L532.8,1302.4 L533.9,1302.1 L535.0,1302.4 L536.1,1302.7 L537.1,1302.6 L537.9,1302.0 L538.6,1301.0 L539.4,1300.1 L540.3,1299.6" fill="none" stroke="#161616" stroke-width="2.40" stroke-linejoin="round"/>
<path d="M540.1,1373.7 L537.7,1373.2 L535.3,1372.3 L532.9,1371.1 L530.6,1369.7 L528.5,1367.9 L526.4,1365.9 L524.4,1363.6 L522.7,1361.1 L521.0,1358.4 L519.6,1355.5 L518.4,1352.4 L517.3,1349.2 L516.5,1345.9 L515.9,1342.5 L515.5,1339.1 L515.4,1335.7 L515.5,1332.3 L515.8,1328.9 L516.4,1325.6 L517.1,1322.4 L518.1,1319.4 L519.3,1316.5 L520.7,1313.8 L522.3,1311.3 L524.0,1309.0 L525.9,1307.0 L528.0,1305.3 L530.1,1303.8 L532.4,1302.7 L534.7,1301.8" fill="none" stroke="#161616" stroke-width="3.60" stroke-dasharray="2.40 4.40"/>
<ellipse cx="545.0" cy="1338.5" rx="21.5" ry="36.4" fill="#fff" stroke="#161616" stroke-width="5.6" transform="rotate(-5 545.0 1338.5)"/>
<ellipse cx="546.0" cy="1338.5" rx="16.5" ry="30.5" fill="none" stroke="#161616" stroke-width="1.4" transform="rotate(-5 546.0 1338.5)"/>
<path d="M540.3,1367.6 L538.6,1366.5 L537.0,1364.9 L535.4,1362.7 L533.9,1360.2 L532.6,1357.3 L531.4,1354.0 L530.4,1350.4 L529.5,1346.7 L528.9,1342.8 L528.5,1338.8 L528.3,1334.8 L528.3,1330.9 L528.6,1327.1 L529.1,1323.5 L529.8,1320.2 L530.6,1317.2 L531.7,1314.6 L533.0,1312.4 L534.4,1310.7 L535.9,1309.5" fill="none" stroke="#161616" stroke-width="2.60"/>
<path d="M545.5,1331.5 Q545.9,1321.0 551.0,1312.2" stroke="#161616" stroke-width="2.60" fill="none" stroke-linecap="round"/>
<path d="M548.0,1335.0 Q552.2,1328.0 558.8,1325.4" stroke="#161616" stroke-width="2.20" fill="none" stroke-linecap="round"/>
<path d="M548.3,1340.4 Q554.8,1340.7 560.0,1345.7" stroke="#161616" stroke-width="2.60" fill="none" stroke-linecap="round"/>
<path d="M546.4,1344.9 Q552.2,1352.2 553.7,1362.2" stroke="#161616" stroke-width="2.40" fill="none" stroke-linecap="round"/>
<path d="M543.2,1345.9 Q545.8,1356.4 543.5,1366.1" stroke="#161616" stroke-width="3.00" fill="none" stroke-linecap="round"/>
<path d="M540.1,1342.2 Q538.0,1349.5 533.4,1352.5" stroke="#161616" stroke-width="2.40" fill="none" stroke-linecap="round"/>
<path d="M539.9,1335.3 Q535.3,1333.3 532.9,1326.7" stroke="#161616" stroke-width="2.60" fill="none" stroke-linecap="round"/>
<path d="M542.3,1331.5 Q539.1,1323.0 540.6,1312.5" stroke="#161616" stroke-width="2.20" fill="none" stroke-linecap="round"/>
<path d="M533.0,1329.5 l7.0,3.5 M532.0,1333.5 l8.0,3.0 M532.0,1337.5 l8.0,2.0 M533.0,1347.5 q4.0,2.0 5.0,9.0" stroke="#161616" stroke-width="1.80" fill="none"/>
<ellipse cx="544.0" cy="1338.5" rx="5.6" ry="8.8" fill="#161616" stroke="#161616" stroke-width="0" transform="rotate(-5 544.0 1338.5)"/>
<ellipse cx="544.8" cy="1338.0" rx="1.5" ry="2.8" fill="#fff" stroke="#fff" stroke-width="0" transform="rotate(-5 544.8 1338.0)"/>
<ellipse cx="544.5" cy="1319.0" rx="5.2" ry="6.2" fill="#fff" stroke="#161616" stroke-width="1.6" transform="rotate(-30 544.5 1319.0)"/>
<path d="M541.0,1323.5 q4.0,3.0 8.0,-1.0" stroke="#161616" stroke-width="1.20" fill="none"/>
<ellipse cx="543.0" cy="1368.5" rx="2.2" ry="1.6" fill="#161616" transform="rotate(0 543.0 1368.5)"/>
<ellipse cx="1140.5" cy="1153.5" rx="33.245000000000005" ry="43.055" fill="#fff" stroke="#fff" stroke-width="0" transform="rotate(-3 1140.5 1153.5)"/>
<path d="M1141.6,1197.1 L1140.0,1196.8 L1138.5,1195.8 L1137.0,1194.8 L1135.6,1194.1 L1134.0,1194.0 L1132.3,1194.2 L1130.4,1194.3 L1128.8,1193.9 L1127.4,1192.7 L1126.4,1191.1 L1125.5,1189.4 L1124.4,1188.0 L1122.9,1187.1 L1121.0,1186.5 L1119.2,1185.7 L1117.7,1184.5 L1116.8,1182.7 L1116.5,1180.6 L1116.2,1178.5 L1115.6,1176.6 L1114.4,1175.1 L1112.8,1173.7 L1111.1,1172.2 L1110.1,1170.4 L1109.8,1168.3 L1110.2,1166.0 L1110.7,1163.8 L1110.7,1161.7 L1110.0,1159.8 L1108.7,1157.9 L1107.6,1155.8 L1107.1,1153.7 L1107.5,1151.6 L1108.5,1149.5 L1109.6,1147.5 L1110.2,1145.6 L1110.1,1143.5 L1109.5,1141.3 L1109.1,1139.1 L1109.2,1137.0 L1110.2,1135.2 L1111.7,1133.6 L1113.3,1132.2 L1114.4,1130.6 L1114.9,1128.8 L1115.0,1126.7 L1115.3,1124.6 L1116.1,1122.8 L1117.5,1121.6 L1119.3,1120.8 L1121.1,1120.1 L1122.6,1119.2 L1123.6,1117.8 L1124.4,1116.1 L1125.4,1114.4 L1126.7,1113.3 L1128.3,1112.8 L1130.1,1112.9 L1131.9,1113.1 L1133.4,1112.9 L1134.9,1112.3 L1136.3,1111.2 L1137.8,1110.3 L1139.4,1109.9" fill="none" stroke="#161616" stroke-width="3.27" stroke-linejoin="round"/>
<path d="M1144.8,1193.8 L1143.6,1193.1 L1142.5,1191.9 L1141.6,1190.6 L1140.6,1189.7 L1139.4,1189.5 L1137.9,1189.7 L1136.3,1189.7 L1135.0,1189.2 L1134.1,1188.0 L1133.5,1186.3 L1133.1,1184.6 L1132.4,1183.2 L1131.2,1182.4 L1129.6,1181.9 L1128.0,1181.3 L1126.9,1180.2 L1126.3,1178.6 L1126.3,1176.6 L1126.4,1174.7 L1126.1,1173.0 L1125.2,1171.7 L1123.7,1170.6 L1122.2,1169.3 L1121.3,1167.8 L1121.3,1166.0 L1121.8,1164.0 L1122.4,1162.1 L1122.6,1160.3 L1121.9,1158.7 L1120.8,1157.1 L1119.6,1155.4 L1119.1,1153.6 L1119.5,1151.8 L1120.6,1150.0 L1121.6,1148.4 L1122.2,1146.7 L1121.9,1145.0 L1121.2,1143.1 L1120.6,1141.2 L1120.5,1139.3 L1121.3,1137.8 L1122.7,1136.5 L1124.1,1135.3 L1125.0,1134.0 L1125.2,1132.4 L1125.0,1130.5 L1124.9,1128.5 L1125.4,1126.9 L1126.5,1125.8 L1128.0,1125.1 L1129.6,1124.6 L1130.7,1123.8 L1131.3,1122.4 L1131.7,1120.7 L1132.1,1119.0 L1133.0,1117.8 L1134.3,1117.3 L1135.8,1117.4 L1137.3,1117.5 L1138.5,1117.3 L1139.5,1116.4 L1140.4,1115.2 L1141.3,1113.9 L1142.5,1113.3" fill="none" stroke="#161616" stroke-width="3.05" stroke-linejoin="round"/>
<path d="M1138.9,1192.4 L1136.5,1191.5 L1134.0,1190.3 L1131.7,1188.8 L1129.4,1187.1 L1127.3,1185.0 L1125.3,1182.7 L1123.5,1180.2 L1121.8,1177.5 L1120.2,1174.5 L1118.9,1171.4 L1117.8,1168.2 L1116.9,1164.8 L1116.2,1161.4 L1115.7,1157.8 L1115.4,1154.3 L1115.4,1150.7 L1115.6,1147.2 L1116.0,1143.7 L1116.7,1140.3 L1117.5,1137.0 L1118.6,1133.8 L1119.9,1130.8 L1121.4,1128.0 L1123.0,1125.4 L1124.8,1123.0 L1126.8,1120.8 L1128.9,1118.9 L1131.1,1117.3 L1133.4,1116.0 L1135.8,1114.9" fill="none" stroke="#161616" stroke-width="4.58" stroke-dasharray="3.27 5.67"/>
<path d="M1132.5,1111.5 L1136.3,1110.7 L1140.2,1110.5 L1144.0,1110.9 L1147.9,1111.8 L1151.6,1113.3 L1155.1,1115.4 L1158.5,1118.0 L1161.6,1121.0 L1164.5,1124.5 L1167.0,1128.4 L1169.2,1132.6 L1170.9,1137.2 L1172.3,1141.9 L1173.2,1146.8 L1173.7,1151.8 L1173.7,1156.8 L1173.3,1161.7 L1172.5,1166.6 L1171.2,1171.2 L1169.5,1175.7 L1167.4,1179.8 L1164.9,1183.6 L1162.1,1186.9 L1159.1,1189.9 L1155.7,1192.3 L1152.2,1194.2 L1148.5,1195.5 L1144.7,1196.3 L1140.8,1196.5 L1137.0,1196.1" fill="none" stroke="#161616" stroke-width="2.83"/>
<path d="M1126.8,1121.5 L1129.2,1119.7 L1131.7,1118.4 L1134.4,1117.3 L1137.1,1116.7 L1139.8,1116.5 L1142.6,1116.6 L1145.3,1117.2 L1148.0,1118.1 L1150.6,1119.4 L1153.1,1121.1 L1155.5,1123.1 L1157.7,1125.4 L1159.8,1128.0 L1161.7,1130.9 L1163.3,1134.1 L1164.7,1137.4 L1165.9,1140.9 L1166.8,1144.6 L1167.4,1148.3 L1167.7,1152.1 L1167.8,1155.9 L1167.5,1159.7 L1167.0,1163.4 L1166.3,1167.0 L1165.2,1170.5 L1163.9,1173.8 L1162.4,1176.9 L1160.6,1179.7 L1158.6,1182.3 L1156.4,1184.5 L1154.1,1186.4 L1151.6,1188.0 L1149.1,1189.2 L1146.4,1190.0 L1143.7,1190.5 L1140.9,1190.5 L1138.2,1190.2 L1135.5,1189.4 L1132.8,1188.3 L1130.2,1186.8" fill="none" stroke="#161616" stroke-width="11.45" stroke-dasharray="2.51 9.37"/>
<path d="M1127.3,1129.3 L1129.7,1126.5 L1132.3,1124.4 L1135.1,1122.9 L1138.0,1122.1 L1141.0,1122.0 L1144.0,1122.5 L1147.0,1123.8 L1149.8,1125.7 L1152.4,1128.2 L1154.7,1131.3 L1156.8,1134.9 L1158.5,1138.9 L1159.8,1143.2 L1160.7,1147.8 L1161.2,1152.4 L1161.2,1157.1 L1160.8,1161.8 L1159.9,1166.2 L1158.6,1170.3 L1157.0,1174.1 L1155.0,1177.4 L1152.6,1180.2 L1150.0,1182.4 L1147.3,1184.0 L1144.3,1184.9 L1141.3,1185.1 L1138.3,1184.6 L1135.4,1183.4 L1132.6,1181.5 L1130.0,1179.0" fill="none" stroke="#161616" stroke-width="2.40"/>
<ellipse cx="1143.225" cy="1154.045" rx="14.715000000000002" ry="29.975" fill="#161616" stroke="#161616" stroke-width="0" transform="rotate(-3 1143.225 1154.045)"/>
<path d="M1136.3,1183.7 L1134.3,1182.8 L1132.4,1181.3 L1130.6,1179.4 L1128.9,1176.9 L1127.4,1174.0 L1126.0,1170.8 L1124.9,1167.2 L1124.1,1163.4 L1123.4,1159.4 L1123.1,1155.3 L1123.0,1151.2 L1123.2,1147.2 L1123.7,1143.3 L1124.4,1139.6 L1125.4,1136.3 L1126.6,1133.2 L1128.0,1130.6 L1129.6,1128.5 L1131.4,1126.9 L1133.3,1125.8" fill="none" stroke="#161616" stroke-width="4.91"/>
<path d="M1138.9,1139.9 q2.2,-9.8 9.8,-12.5 q5.5,3.3 6.5,9.8 l-9.8,4.4 z M1132.3,1147.5 l13.1,2.2 l-0.7,2.6 l-13.1,-2.2 z M1131.8,1152.4 l13.1,2.2 l-0.7,2.6 l-13.1,-2.2 z M1132.3,1160.6 l9.8,1.6 l-1.1,8.7 l-6.5,-1.1 z M1138.3,1170.4 l3.3,0.7 l-0.3,11.4 l-2.8,-1.6 z M1143.4,1171.0 l3.3,0.7 l-0.5,10.4 l-2.8,0.7 z" fill="#fff"/>
<path d="M1141.0,1132.2 l7.6,-4.4 M1142.1,1136.6 l9.8,-5.5" stroke="#161616" stroke-width="1.96" fill="none"/>
<ellipse cx="1468.5" cy="1227.5" rx="33.550000000000004" ry="42.900000000000006" fill="#fff" stroke="#fff" stroke-width="0" transform="rotate(-5 1468.5 1227.5)"/>
<path d="M1479.2,1269.4 L1477.8,1269.5 L1476.2,1269.2 L1474.8,1268.8 L1473.4,1268.8 L1472.2,1269.2 L1470.9,1270.0 L1469.5,1270.7 L1468.1,1270.9 L1466.8,1270.5 L1465.5,1269.6 L1464.3,1268.6 L1463.1,1268.0 L1461.7,1267.8 L1460.2,1268.0 L1458.6,1268.1 L1457.1,1267.7 L1456.0,1266.8 L1455.1,1265.3 L1454.3,1263.9 L1453.3,1262.7 L1452.0,1262.0 L1450.4,1261.6 L1448.7,1261.1 L1447.4,1260.1 L1446.6,1258.7 L1446.2,1256.9 L1445.9,1255.1 L1445.2,1253.6 L1444.1,1252.4 L1442.6,1251.4 L1441.0,1250.3 L1439.9,1248.9 L1439.6,1247.2 L1439.7,1245.2 L1439.9,1243.3 L1439.7,1241.6 L1438.9,1240.0 L1437.6,1238.6 L1436.4,1237.1 L1435.7,1235.4 L1435.7,1233.5 L1436.4,1231.6 L1437.1,1229.8 L1437.3,1228.0 L1436.9,1226.3 L1436.0,1224.6 L1435.2,1222.7 L1435.0,1220.9 L1435.5,1219.2 L1436.6,1217.6 L1437.7,1216.0 L1438.4,1214.4 L1438.4,1212.7 L1438.1,1210.9 L1437.8,1209.0 L1438.0,1207.2 L1438.9,1205.8 L1440.3,1204.6 L1441.8,1203.5 L1442.8,1202.3 L1443.3,1200.7 L1443.4,1199.0 L1443.7,1197.2 L1444.4,1195.7 L1445.6,1194.8 L1447.2,1194.1 L1448.7,1193.6 L1450.0,1192.9 L1450.8,1191.7 L1451.5,1190.2 L1452.3,1188.8 L1453.4,1187.8 L1454.8,1187.3 L1456.4,1187.4 L1457.9,1187.5 L1459.2,1187.3 L1460.4,1186.6 L1461.5,1185.6 L1462.7,1184.6 L1464.1,1184.2 L1465.5,1184.3 L1466.9,1185.0 L1468.2,1185.7 L1469.5,1186.1 L1470.8,1186.0 L1472.3,1185.6 L1473.8,1185.2 L1475.2,1185.3" fill="none" stroke="#161616" stroke-width="2.86" stroke-linejoin="round"/>
<path d="M1476.3,1269.4 L1475.2,1269.0 L1474.2,1268.0 L1473.3,1267.0 L1472.4,1266.4 L1471.3,1266.4 L1470.1,1266.9 L1468.9,1267.3 L1467.7,1267.1 L1466.8,1266.3 L1466.2,1264.9 L1465.6,1263.5 L1464.8,1262.5 L1463.7,1262.1 L1462.4,1262.0 L1461.0,1261.9 L1459.9,1261.3 L1459.2,1260.1 L1458.9,1258.4 L1458.7,1256.7 L1458.2,1255.4 L1457.2,1254.6 L1455.8,1254.1 L1454.4,1253.4 L1453.4,1252.4 L1453.0,1250.9 L1453.1,1249.1 L1453.3,1247.4 L1453.1,1245.9 L1452.2,1244.7 L1450.9,1243.7 L1449.6,1242.6 L1448.8,1241.3 L1448.8,1239.7 L1449.3,1237.9 L1449.9,1236.2 L1450.0,1234.6 L1449.4,1233.2 L1448.3,1231.9 L1447.2,1230.4 L1446.7,1228.9 L1447.0,1227.3 L1447.8,1225.7 L1448.7,1224.2 L1449.1,1222.8 L1448.8,1221.2 L1448.0,1219.6 L1447.3,1218.0 L1447.1,1216.4 L1447.7,1214.9 L1448.8,1213.7 L1450.0,1212.6 L1450.7,1211.3 L1450.7,1209.8 L1450.2,1208.1 L1449.9,1206.4 L1450.1,1204.9 L1450.9,1203.7 L1452.2,1203.0 L1453.5,1202.3 L1454.4,1201.3 L1454.7,1200.0 L1454.7,1198.3 L1454.8,1196.7 L1455.3,1195.4 L1456.3,1194.7 L1457.7,1194.4 L1459.0,1194.2 L1460.0,1193.7 L1460.6,1192.7 L1461.0,1191.2 L1461.5,1189.8 L1462.3,1188.9 L1463.4,1188.6 L1464.7,1188.9 L1465.9,1189.2 L1466.9,1189.1 L1467.8,1188.5 L1468.6,1187.4 L1469.5,1186.3 L1470.5,1185.8" fill="none" stroke="#161616" stroke-width="2.64" stroke-linejoin="round"/>
<path d="M1470.3,1267.3 L1467.6,1266.7 L1465.0,1265.8 L1462.4,1264.5 L1459.9,1262.9 L1457.4,1260.9 L1455.2,1258.7 L1453.0,1256.2 L1451.1,1253.5 L1449.3,1250.5 L1447.7,1247.3 L1446.4,1243.9 L1445.2,1240.4 L1444.3,1236.8 L1443.7,1233.1 L1443.3,1229.3 L1443.1,1225.5 L1443.2,1221.8 L1443.5,1218.1 L1444.2,1214.4 L1445.0,1210.9 L1446.1,1207.6 L1447.4,1204.4 L1448.9,1201.4 L1450.7,1198.7 L1452.6,1196.2 L1454.7,1194.0 L1456.9,1192.0 L1459.3,1190.4 L1461.8,1189.2 L1464.4,1188.2" fill="none" stroke="#161616" stroke-width="3.96" stroke-dasharray="2.64 4.84"/>
<ellipse cx="1475.65" cy="1228.6" rx="23.650000000000002" ry="40.04" fill="#fff" stroke="#161616" stroke-width="6.16" transform="rotate(-5 1475.65 1228.6)"/>
<ellipse cx="1476.75" cy="1228.6" rx="18.150000000000002" ry="33.550000000000004" fill="none" stroke="#161616" stroke-width="1.54" transform="rotate(-5 1476.75 1228.6)"/>
<path d="M1470.5,1260.7 L1468.6,1259.4 L1466.8,1257.6 L1465.1,1255.3 L1463.5,1252.5 L1462.0,1249.2 L1460.7,1245.6 L1459.6,1241.7 L1458.6,1237.6 L1457.9,1233.3 L1457.5,1228.9 L1457.3,1224.6 L1457.3,1220.2 L1457.6,1216.1 L1458.1,1212.1 L1458.9,1208.5 L1459.9,1205.2 L1461.0,1202.3 L1462.4,1199.9 L1463.9,1198.0 L1465.6,1196.7" fill="none" stroke="#161616" stroke-width="2.86"/>
<path d="M1476.2,1220.8 Q1476.6,1209.3 1482.2,1199.7" stroke="#161616" stroke-width="2.86" fill="none" stroke-linecap="round"/>
<path d="M1478.9,1224.7 Q1483.6,1217.0 1490.8,1214.1" stroke="#161616" stroke-width="2.42" fill="none" stroke-linecap="round"/>
<path d="M1479.3,1230.7 Q1486.5,1231.0 1492.2,1236.6" stroke="#161616" stroke-width="2.86" fill="none" stroke-linecap="round"/>
<path d="M1477.2,1235.6 Q1483.5,1243.7 1485.2,1254.7" stroke="#161616" stroke-width="2.64" fill="none" stroke-linecap="round"/>
<path d="M1473.7,1236.7 Q1476.5,1248.3 1474.0,1258.9" stroke="#161616" stroke-width="3.30" fill="none" stroke-linecap="round"/>
<path d="M1470.3,1232.7 Q1468.0,1240.7 1462.9,1244.0" stroke="#161616" stroke-width="2.64" fill="none" stroke-linecap="round"/>
<path d="M1470.1,1225.1 Q1465.0,1222.8 1462.3,1215.6" stroke="#161616" stroke-width="2.86" fill="none" stroke-linecap="round"/>
<path d="M1472.7,1221.0 Q1469.2,1211.5 1470.8,1200.0" stroke="#161616" stroke-width="2.42" fill="none" stroke-linecap="round"/>
<path d="M1462.5,1218.7 l7.7,3.9 M1461.3,1223.1 l8.8,3.3 M1461.3,1227.5 l8.8,2.2 M1462.5,1238.5 q4.4,2.2 5.5,9.9" stroke="#161616" stroke-width="1.98" fill="none"/>
<ellipse cx="1474.55" cy="1228.6" rx="6.16" ry="9.680000000000001" fill="#161616" stroke="#161616" stroke-width="0" transform="rotate(-5 1474.55 1228.6)"/>
<ellipse cx="1475.43" cy="1228.05" rx="1.6500000000000001" ry="3.08" fill="#fff" stroke="#fff" stroke-width="0" transform="rotate(-5 1475.43 1228.05)"/>
<ellipse cx="1475.1" cy="1207.1499999999999" rx="5.720000000000001" ry="6.820000000000001" fill="#fff" stroke="#161616" stroke-width="1.7600000000000002" transform="rotate(-30 1475.1 1207.1499999999999)"/>
<path d="M1471.2,1212.1 q4.4,3.3 8.8,-1.1" stroke="#161616" stroke-width="1.32" fill="none"/>
<ellipse cx="1473.45" cy="1261.6" rx="2.4200000000000004" ry="1.7600000000000002" fill="#161616" transform="rotate(0 1473.45 1261.6)"/>
<ellipse cx="178" cy="1257.5" rx="4.2" ry="3.6" fill="#161616" transform="rotate(10 178 1257.5)"/>
<path class="p" d="M168,1254.5 L174,1256" stroke-width="2.0"/>
<ellipse cx="596" cy="1351" rx="3.6" ry="3.8" fill="#161616" transform="rotate(10 596 1351)"/>
<ellipse cx="1076" cy="1140" rx="3.8" ry="3.6" fill="#161616" transform="rotate(10 1076 1140)"/>
<ellipse cx="1525" cy="1241.5" rx="3.8" ry="4.0" fill="#161616" transform="rotate(10 1525 1241.5)"/>
<path d="M357.0,1297.0 L451.0,1318.0 L453.0,1336.0 L410.0,1326.0 L398.0,1320.5 L382.0,1319.0 L343.0,1310.0 Z" fill="#fff"/>
<path class="p" d="M357,1297 L451,1318" stroke-width="1.5"/>
<path class="p" d="M346.0,1306.0 C352.0,1307.3 374.7,1312.7 382.0,1314.0 C389.3,1315.3 386.2,1313.5 390.0,1314.0 C393.8,1314.5 400.8,1315.7 405.0,1317.0 C409.2,1318.3 407.5,1320.0 415.0,1322.0 C422.5,1324.0 444.2,1327.8 450.0,1329.0" stroke-width="1.4"/>
<path class="p" d="M343.0,1310.0 C349.5,1311.5 372.8,1317.2 382.0,1319.0 C391.2,1320.8 393.3,1319.3 398.0,1320.5 C402.7,1321.7 400.8,1323.4 410.0,1326.0 C419.2,1328.6 445.8,1334.3 453.0,1336.0" stroke-width="1.5"/>
<path class="p" d="M382,1313 L382,1319.5 M414,1321 L411.5,1327" stroke-width="2.0"/>
<path d="M332.5,1291.0 C332.9,1289.1 334.7,1287.5 336.5,1287.5 C338.3,1287.5 341.8,1290.2 343.5,1291.0 C345.2,1291.8 345.7,1292.3 347.0,1292.0 C348.3,1291.7 350.0,1289.0 351.5,1289.0 C353.0,1289.0 355.1,1290.8 356.0,1292.0 C356.9,1293.2 357.2,1294.3 357.0,1296.0 C356.8,1297.7 355.8,1300.3 354.5,1302.0 C353.2,1303.7 350.8,1304.2 349.5,1306.0 C348.2,1307.8 348.3,1311.0 347.0,1312.5 C345.7,1314.0 343.1,1315.0 341.5,1315.0 C339.9,1315.0 338.8,1315.2 337.5,1312.5 C336.2,1309.8 334.8,1302.6 334.0,1299.0 C333.2,1295.4 332.1,1292.9 332.5,1291.0 Z" fill="#161616"/>
<path d="M336.5,1293.0 L340.5,1293.5 L340.5,1297.0 L337.5,1297.0 Z" fill="#fff"/>
<path d="M340.5,1299.0 L343.0,1299.0 L343.0,1302.5 L341.0,1302.5 Z" fill="#fff"/>
<path d="M350.5,1292.0 L354.5,1292.0 L354.5,1295.0 L351.0,1295.5 Z" fill="#fff"/>
<path d="M351.0,1297.5 L353.5,1297.5 L353.0,1300.5 L351.0,1301.0 Z" fill="#fff"/>
<path d="M339.5,1308.0 L341.3,1308.0 L341.3,1312.0 L339.8,1312.0 Z" fill="#fff"/>
<path d="M344.1,1307.0 L345.7,1307.0 L345.7,1311.0 L344.3,1311.0 Z" fill="#fff"/>
<path d="M316.5,1287.3 L333.5,1292" stroke="#3a3a3a" stroke-width="4" stroke-linecap="round" fill="none"/>
<path d="M319.5,1288.2 L329.5,1291" stroke="#aaa" stroke-width="1.2" fill="none"/>
<ellipse cx="455.5" cy="1326" rx="4.6" ry="11.5" fill="#fff" stroke="#161616" stroke-width="1.8" transform="rotate(-8 455.5 1326)"/>
<path d="M450.5,1318.0 C450.7,1316.3 451.8,1314.6 453.0,1314.0 C454.2,1313.4 456.5,1313.5 457.5,1314.5 C458.5,1315.5 459.1,1318.2 459.0,1320.0 C458.9,1321.8 458.2,1324.3 457.0,1325.0 C455.8,1325.7 453.1,1325.2 452.0,1324.0 C450.9,1322.8 450.3,1319.7 450.5,1318.0 Z" fill="#161616"/>
<path class="p" d="M454,1328 L457,1335" stroke-width="1.1"/>
<path d="M458,1320.5 L468,1322.8" stroke="#3a3a3a" stroke-width="3.6" stroke-linecap="butt" fill="none"/>
<path d="M467.5,1319.8 L474,1324 L467,1326.2 Z" fill="#161616"/>
<path d="M364.9,1196.3 L376.7,1199.1 L372.8,1214.9 L369.0,1232.0 L363.0,1242.0 L357.0,1249.5 L349.0,1251.5 L346.5,1248.0 L352.0,1241.0 L357.5,1232.0 L360.0,1222.0 L362.6,1213.8 Z" fill="#161616" stroke="#161616" stroke-width="1.2" stroke-linejoin="round"/>
<path d="M367.5,1203 L372,1206 M366.5,1208 L371,1211" stroke="#777" stroke-width="1" fill="none"/>
<path d="M363.0,1219.0 L366.2,1219.5 L363.6,1234.0 L361.0,1233.5 Z" fill="#fff"/>
<ellipse cx="353.3" cy="1245.6" rx="3.4" ry="2.0" fill="#fff" stroke="#fff" stroke-width="0" transform="rotate(-25 353.3 1245.6)"/>
<ellipse cx="335.6" cy="1249.2" rx="3.8" ry="4.0" fill="#161616" transform="rotate(0 335.6 1249.2)"/>
<ellipse cx="342.9" cy="1244.4" rx="3.0" ry="3.2" fill="#161616" transform="rotate(0 342.9 1244.4)"/>
<ellipse cx="348.5" cy="1251.5" rx="2.6" ry="2.6" fill="#161616" transform="rotate(0 348.5 1251.5)"/>
<path class="p" d="M361.5,1254 L371,1250" stroke-width="5.0"/>
<path class="p" d="M355,1252 L362,1254" stroke-width="2.0"/>
<path class="ld" d="M354,1252.5 L380,1257.5 L362,1297" stroke-width="1.55"/>
<path d="M322,1334.2 L328,1333.3" stroke="#161616" stroke-width="4.6" stroke-linecap="round" fill="none"/>
<path d="M327,1333.4 L340,1331.4" stroke="#161616" stroke-width="3.0" stroke-linecap="round" fill="none"/>
<path d="M326,1358.5 L326,1368.5" stroke="#161616" stroke-width="4.2" stroke-linecap="butt" fill="none"/>
<path d="M326.4,1361.5 L326.4,1366.5" stroke="#888" stroke-width="1.4" fill="none"/>
<path d="M335.3,1355.5 L335.3,1365.5" stroke="#161616" stroke-width="4.2" stroke-linecap="butt" fill="none"/>
<path d="M335.6,1357.5 L335.6,1361.5" stroke="#888" stroke-width="1.3" fill="none"/>
<ellipse cx="334.5" cy="1367.0" rx="3.9" ry="2.8" fill="#161616" transform="rotate(0 334.5 1367.0)"/>
<ellipse cx="325.5" cy="1369.5" rx="3.2" ry="2.0" fill="#161616" transform="rotate(0 325.5 1369.5)"/>
<path d="M443.5,1362 L449.5,1361.1" stroke="#161616" stroke-width="4.6" stroke-linecap="round" fill="none"/>
<path d="M448.5,1361.2 L461.5,1359.2" stroke="#161616" stroke-width="3.0" stroke-linecap="round" fill="none"/>
<path d="M447.5,1386.5 L447.5,1396.5" stroke="#161616" stroke-width="4.2" stroke-linecap="butt" fill="none"/>
<path d="M447.9,1389.5 L447.9,1394.5" stroke="#888" stroke-width="1.4" fill="none"/>
<path d="M456.8,1383.5 L456.8,1393.5" stroke="#161616" stroke-width="4.2" stroke-linecap="butt" fill="none"/>
<path d="M457.1,1385.5 L457.1,1389.5" stroke="#888" stroke-width="1.3" fill="none"/>
<ellipse cx="456.0" cy="1395.0" rx="3.9" ry="2.8" fill="#161616" transform="rotate(0 456.0 1395.0)"/>
<ellipse cx="447.0" cy="1397.5" rx="3.2" ry="2.0" fill="#161616" transform="rotate(0 447.0 1397.5)"/>
<path class="pw" d="M1256.0,1180.0 L1370.0,1206.0 L1368.0,1224.5 L1246.5,1196.5 Z" stroke-width="1.5"/>
<path class="p" d="M1248,1191 L1369,1218.5" stroke-width="1.2"/>
<path d="M1232.0,1175.0 C1232.4,1173.1 1234.2,1171.5 1236.0,1171.5 C1237.8,1171.5 1241.2,1174.2 1243.0,1175.0 C1244.8,1175.8 1245.2,1176.3 1246.5,1176.0 C1247.8,1175.7 1249.5,1173.0 1251.0,1173.0 C1252.5,1173.0 1254.6,1174.8 1255.5,1176.0 C1256.4,1177.2 1256.8,1178.3 1256.5,1180.0 C1256.2,1181.7 1255.2,1184.3 1254.0,1186.0 C1252.8,1187.7 1250.2,1188.2 1249.0,1190.0 C1247.8,1191.8 1247.8,1195.0 1246.5,1196.5 C1245.2,1198.0 1242.6,1199.0 1241.0,1199.0 C1239.4,1199.0 1238.2,1199.2 1237.0,1196.5 C1235.8,1193.8 1234.3,1186.6 1233.5,1183.0 C1232.7,1179.4 1231.6,1176.9 1232.0,1175.0 Z" fill="#161616"/>
<path d="M1236.0,1177.0 L1240.0,1177.5 L1240.0,1181.0 L1237.0,1181.0 Z" fill="#fff"/>
<path d="M1240.0,1183.0 L1242.5,1183.0 L1242.5,1186.5 L1240.5,1186.5 Z" fill="#fff"/>
<path d="M1250.0,1176.0 L1254.0,1176.0 L1254.0,1179.0 L1250.5,1179.5 Z" fill="#fff"/>
<path d="M1250.5,1181.5 L1253.0,1181.5 L1252.5,1184.5 L1250.5,1185.0 Z" fill="#fff"/>
<path d="M1239.0,1192.0 L1240.8,1192.0 L1240.8,1196.0 L1239.3,1196.0 Z" fill="#fff"/>
<path d="M1243.6,1191.0 L1245.2,1191.0 L1245.2,1195.0 L1243.8,1195.0 Z" fill="#fff"/>
<path d="M1216,1171.3 L1233,1176" stroke="#3a3a3a" stroke-width="4" stroke-linecap="round" fill="none"/>
<path d="M1219,1172.2 L1229,1175" stroke="#aaa" stroke-width="1.2" fill="none"/>
<ellipse cx="1373" cy="1215" rx="4.6" ry="11.5" fill="#fff" stroke="#161616" stroke-width="1.8" transform="rotate(-8 1373 1215)"/>
<path d="M1368.0,1207.0 C1368.2,1205.3 1369.3,1203.6 1370.5,1203.0 C1371.7,1202.4 1374.0,1202.5 1375.0,1203.5 C1376.0,1204.5 1376.6,1207.2 1376.5,1209.0 C1376.4,1210.8 1375.7,1213.3 1374.5,1214.0 C1373.3,1214.7 1370.6,1214.2 1369.5,1213.0 C1368.4,1211.8 1367.8,1208.7 1368.0,1207.0 Z" fill="#161616"/>
<path class="p" d="M1371.5,1217 L1374.5,1224" stroke-width="1.1"/>
<path d="M1375.5,1209.5 L1385.5,1211.8" stroke="#3a3a3a" stroke-width="3.6" stroke-linecap="butt" fill="none"/>
<path d="M1385,1208.8 L1391.5,1213 L1384.5,1215.2 Z" fill="#161616"/>
<path class="pk" d="M1230.5,1035.0 L1239.5,1032.7 L1248.4,1052.3 L1240.9,1054.4 Z" stroke-width="1.4"/>
<path d="M1233.5,1038.5 L1241,1036.5 M1235.5,1043 L1243,1041 M1237.5,1047.5 L1245,1045.5" stroke="#666" stroke-width="0.8" fill="none"/>
<path d="M1240.9,1054.4 L1249.1,1055.7 L1248.4,1068.1 L1245.7,1088.7 L1241.5,1114.2 L1231.2,1113.5 L1237.4,1088.7 L1238.1,1069.5 Z" fill="#fff"/>
<path class="p" d="M1240.9,1054.4 C1240.4,1056.9 1238.7,1063.8 1238.1,1069.5 C1237.5,1075.2 1238.6,1081.4 1237.4,1088.7 C1236.2,1096.0 1232.2,1109.4 1231.2,1113.5" stroke-width="3.4"/>
<path class="p" d="M1249.1,1055.7 C1249.0,1057.8 1249.0,1062.6 1248.4,1068.1 C1247.8,1073.6 1246.9,1081.0 1245.7,1088.7 C1244.5,1096.4 1242.2,1110.0 1241.5,1114.2" stroke-width="1.8"/>
<path class="p" d="M1241,1054.5 L1249,1055.7" stroke-width="1.6"/>
<path d="M1237.4,1088.5 L1245.7,1088.5 L1245.0,1095.0 L1236.0,1095.0 Z" fill="#161616"/>
<path class="p" d="M1243.5,1059 L1242.5,1086" stroke-width="1.0"/>
<path d="M1230.5,1113.0 C1231.4,1111.9 1234.2,1111.1 1236.0,1111.0 C1237.8,1110.9 1240.7,1111.3 1241.5,1112.5 C1242.3,1113.7 1242.1,1116.8 1241.0,1118.0 C1239.9,1119.2 1236.8,1119.6 1235.0,1119.5 C1233.2,1119.4 1231.2,1118.6 1230.5,1117.5 C1229.8,1116.4 1229.6,1114.1 1230.5,1113.0 Z" fill="#161616"/>
<ellipse cx="1216.8" cy="1111.8" rx="3.3" ry="3.3" fill="#161616" transform="rotate(0 1216.8 1111.8)"/>
<ellipse cx="1225" cy="1109.3" rx="3.0" ry="3.0" fill="#161616" transform="rotate(0 1225 1109.3)"/>
<path d="M1243.6,1116 L1251.9,1117 L1248,1122 Z" fill="#161616"/>
<path class="p" d="M1250,1117.5 L1256,1118" stroke-width="3.0"/>
<ellipse cx="1258.3" cy="1117.8" rx="2.8" ry="2.6" fill="#161616" transform="rotate(0 1258.3 1117.8)"/>
<path class="ld" d="M1240,1118.5 L1279,1125 L1261,1180" stroke-width="1.55"/>
<path d="M1303,1250.3 L1309,1249.3999999999999" stroke="#161616" stroke-width="4.6" stroke-linecap="round" fill="none"/>
<path d="M1308,1249.5 L1321,1247.5" stroke="#161616" stroke-width="3.0" stroke-linecap="round" fill="none"/>
<path d="M1304.5,1265 L1304.5,1275" stroke="#161616" stroke-width="4.2" stroke-linecap="butt" fill="none"/>
<path d="M1304.9,1268 L1304.9,1273" stroke="#888" stroke-width="1.4" fill="none"/>
<path d="M1313.8,1262 L1313.8,1272" stroke="#161616" stroke-width="4.2" stroke-linecap="butt" fill="none"/>
<path d="M1314.1,1264 L1314.1,1268" stroke="#888" stroke-width="1.3" fill="none"/>
<ellipse cx="1313.0" cy="1273.5" rx="3.9" ry="2.8" fill="#161616" transform="rotate(0 1313.0 1273.5)"/>
<ellipse cx="1304.0" cy="1276" rx="3.2" ry="2.0" fill="#161616" transform="rotate(0 1304.0 1276)"/>
<path d="M1356,1260.3 L1362,1259.3999999999999" stroke="#161616" stroke-width="4.6" stroke-linecap="round" fill="none"/>
<path d="M1361,1259.5 L1374,1257.5" stroke="#161616" stroke-width="3.0" stroke-linecap="round" fill="none"/>
<path d="M1358.5,1280 L1358.5,1290" stroke="#161616" stroke-width="4.2" stroke-linecap="butt" fill="none"/>
<path d="M1358.9,1283 L1358.9,1288" stroke="#888" stroke-width="1.4" fill="none"/>
<path d="M1367.8,1277 L1367.8,1287" stroke="#161616" stroke-width="4.2" stroke-linecap="butt" fill="none"/>
<path d="M1368.1,1279 L1368.1,1283" stroke="#888" stroke-width="1.3" fill="none"/>
<ellipse cx="1367.0" cy="1288.5" rx="3.9" ry="2.8" fill="#161616" transform="rotate(0 1367.0 1288.5)"/>
<ellipse cx="1358.0" cy="1291" rx="3.2" ry="2.0" fill="#161616" transform="rotate(0 1358.0 1291)"/>
<path class="p" d="M764.2,1165 L764.7,1182" stroke-width="3.4"/>
<ellipse cx="765.5" cy="1184" rx="2.6" ry="2.4" fill="#161616" transform="rotate(0 765.5 1184)"/>
<path d="M743.5,1253.5 L757.5,1249.5 L781.0,1249.0 L782.0,1253.5 L763.0,1260.5 L744.0,1258.5 Z" fill="#fff" stroke="#161616" stroke-width="1.8" stroke-linejoin="round"/>
<path class="p" d="M744,1255.5 L763,1257.5 L781.5,1250.5" stroke-width="1.2"/>
<path d="M756.0,1252.0 C754.8,1250.0 755.3,1244.4 756.0,1242.5 C756.7,1240.6 758.3,1240.8 760.0,1240.5 C761.7,1240.2 764.5,1240.2 766.0,1240.5 C767.5,1240.8 768.5,1240.5 769.0,1242.5 C769.5,1244.5 770.0,1250.5 769.0,1252.5 C768.0,1254.5 765.2,1254.6 763.0,1254.5 C760.8,1254.4 757.2,1254.0 756.0,1252.0 Z" fill="#fff" stroke="#161616" stroke-width="1.9" stroke-linejoin="round"/>
<path class="p" d="M756.0,1243.0 C756.7,1243.3 758.3,1244.7 760.0,1245.0 C761.7,1245.3 764.5,1245.3 766.0,1245.0 C767.5,1244.7 768.5,1243.3 769.0,1243.0" stroke-width="1.3"/>
<path class="p" d="M760,1245 L760,1253.5 M766,1245 L766,1253.5" stroke-width="1.0"/>
<ellipse cx="750" cy="1255" rx="2.5" ry="1.1" fill="none" stroke="#161616" stroke-width="1.0" transform="rotate(8 750 1255)"/>
<ellipse cx="775.5" cy="1252.3" rx="2.5" ry="1.1" fill="none" stroke="#161616" stroke-width="1.0" transform="rotate(-10 775.5 1252.3)"/>
<circle cx="762.5" cy="1260" r="2.6" fill="#161616"/>
<path class="pw" d="M706.0,1307.0 L712.0,1304.5 L730.0,1300.5 L800.0,1282.5 L810.0,1276.5 L829.0,1268.5 L843.5,1277.5 L827.0,1285.0 L820.0,1280.5 L812.0,1284.0 L802.0,1289.5 L733.0,1308.5 L724.0,1312.5 L710.0,1311.5 Z" stroke-width="1.5"/>
<path class="p" d="M682.5,1320 L708,1308.5" stroke-width="3.0"/>
<path class="p" d="M688,1318.5 L712,1311" stroke-width="1.2"/>
<path class="p" d="M712,1304.5 L724,1312.5 M718,1303 L730,1310" stroke-width="1.1"/>
<path d="M734,1301.5 L798,1285" stroke="#161616" stroke-width="3.2" stroke-dasharray="7 3.5" fill="none"/>
<path class="p" d="M731,1305 L800,1287.5" stroke-width="1.0"/>
<ellipse cx="732" cy="1311" rx="2.6" ry="2.0" fill="#161616" transform="rotate(-15 732 1311)"/>
<ellipse cx="764" cy="1323" rx="10" ry="3.6" fill="#fff" stroke="#161616" stroke-width="1.6" transform="rotate(3 764 1323)"/>
<ellipse cx="763.5" cy="1322.5" rx="5" ry="1.6" fill="none" stroke="#161616" stroke-width="1.2" transform="rotate(3 763.5 1322.5)"/>
<ellipse cx="771" cy="1326" rx="2.6" ry="2.0" fill="#161616" transform="rotate(0 771 1326)"/>
<path class="p" d="M763.3,1346 L763.6,1358" stroke-width="3.4"/>
<ellipse cx="762.8" cy="1361.5" rx="4.6" ry="2.6" fill="#161616" transform="rotate(0 762.8 1361.5)"/>
<path d="M852.0,1162.0 C852.2,1159.3 853.7,1157.7 855.0,1156.0 C856.3,1154.3 858.2,1153.7 860.0,1152.0 C861.8,1150.3 863.5,1147.5 866.0,1146.0 C868.5,1144.5 872.8,1144.0 875.0,1143.0 C877.2,1142.0 877.3,1140.2 879.0,1140.0 C880.7,1139.8 882.3,1141.2 885.0,1142.0 C887.7,1142.8 892.5,1143.8 895.0,1145.0 C897.5,1146.2 898.7,1147.7 900.0,1149.0 C901.3,1150.3 902.3,1151.5 903.0,1153.0 C903.7,1154.5 905.0,1156.2 904.0,1158.0 C903.0,1159.8 900.5,1162.0 897.0,1164.0 C893.5,1166.0 887.5,1168.5 883.0,1170.0 C878.5,1171.5 873.8,1172.0 870.0,1173.0 C866.2,1174.0 862.7,1176.2 860.0,1176.0 C857.3,1175.8 855.3,1174.3 854.0,1172.0 C852.7,1169.7 851.8,1164.7 852.0,1162.0 Z" fill="#161616" stroke="#161616" stroke-width="1.5" stroke-linejoin="round"/>
<path d="M857.5,1166 L860,1165 L860,1172 L857.5,1172.5 Z M872,1149 L874.5,1148 L875,1169 L872.5,1170 Z M878,1159 L886,1157 L886,1167 L878.5,1169.5 Z M888,1152 L890.5,1152 L891,1163.5 L888.5,1164.5 Z M894,1156 L899,1155 L899,1160 L894.5,1161.5 Z" fill="#fff"/>
<path d="M862.5,1158 L867,1156 L867,1173 L863,1174 Z M880,1146 L884,1147 L884,1154 L880,1155 Z" fill="#9a9a9a"/>
<path class="ld" d="M815.5,1144 L815.5,1164" stroke-width="1.3" style="stroke:#333"/>
<path class="p" d="M815.5,1151 L815.5,1164" stroke-width="3.4"/>
<ellipse cx="815.5" cy="1165" rx="3.6" ry="3.2" fill="#161616" transform="rotate(0 815.5 1165)"/>
<path class="ld" d="M811,1153 L811,1198" stroke-width="1.3" style="stroke:#333"/>
<path class="p" d="M811,1172 L811,1186" stroke-width="3.4"/>
<ellipse cx="811" cy="1187" rx="3.6" ry="3.2" fill="#161616" transform="rotate(0 811 1187)"/>
<path class="ld" d="M850,1213 L850,1228" stroke-width="1.3" style="stroke:#333"/>
<path class="p" d="M850,1215 L850,1228" stroke-width="3.4"/>
<ellipse cx="850" cy="1229" rx="3.6" ry="3.2" fill="#161616" transform="rotate(0 850 1229)"/>
<path class="ld" d="M864.5,1215 L864.5,1231" stroke-width="1.3" style="stroke:#333"/>
<path class="p" d="M864.5,1217 L864.5,1231" stroke-width="3.4"/>
<ellipse cx="864.5" cy="1232" rx="3.6" ry="3.2" fill="#161616" transform="rotate(0 864.5 1232)"/>
<path class="ld" d="M814.5,1191 L846,1228 L865,1234" stroke-width="1.55"/>
<path class="ld" d="M914,1129 L914,1164" stroke-width="1.3" style="stroke:#333"/>
<path class="p" d="M914,1143 L914,1156" stroke-width="3.4"/>
<ellipse cx="914" cy="1157" rx="3.6" ry="3.2" fill="#161616" transform="rotate(0 914 1157)"/>
<path d="M910.5,1157 L917.5,1157 L914,1165 Z" fill="#161616"/>
<path class="ld" d="M884.5,1172 L884.5,1205" stroke-width="1.3" style="stroke:#333"/>
<path class="p" d="M884.5,1186 L884.5,1196" stroke-width="3.4"/>
<ellipse cx="884.5" cy="1197" rx="2.8" ry="2.4" fill="#161616" transform="rotate(0 884.5 1197)"/>
<path class="ld" d="M893,1178 L893,1222" stroke-width="1.3" style="stroke:#333"/>
<path class="p" d="M893,1195 L893,1203" stroke-width="3.4"/>
<ellipse cx="893" cy="1204" rx="3.6" ry="3.2" fill="#161616" transform="rotate(0 893 1204)"/>
<path d="M564.0,857.0 C563.5,854.4 565.0,845.8 566.0,842.0 C567.0,838.2 567.9,836.6 570.0,834.5 C572.1,832.4 576.8,831.9 578.5,829.5 C580.2,827.1 579.8,822.9 580.5,820.0 C581.2,817.1 579.2,814.7 582.5,812.0 C585.8,809.3 595.1,806.0 600.0,804.0 C604.9,802.0 608.9,800.5 612.0,800.0 C615.1,799.5 617.0,799.3 618.5,801.0 C620.0,802.7 621.3,807.2 621.0,810.0 C620.7,812.8 617.5,814.7 616.5,818.0 C615.5,821.3 615.5,826.5 615.0,830.0 C614.5,833.5 614.4,836.6 613.5,839.0 C612.6,841.4 612.6,842.8 609.5,844.5 C606.4,846.2 599.9,847.5 595.0,849.0 C590.1,850.5 584.3,852.1 580.0,853.5 C575.7,854.9 571.7,856.9 569.0,857.5 C566.3,858.1 564.5,859.6 564.0,857.0 Z" fill="#fff" stroke="#161616" stroke-width="3.0" stroke-linejoin="round"/>
<path d="M582.5,812.0 C585.8,809.0 595.1,806.0 600.0,804.0 C604.9,802.0 608.9,800.5 612.0,800.0 C615.1,799.5 617.0,799.3 618.5,801.0 C620.0,802.7 621.3,807.2 621.0,810.0 C620.7,812.8 618.0,817.2 616.5,818.0 C615.0,818.8 614.8,814.7 612.0,815.0 C609.2,815.3 604.0,818.2 600.0,820.0 C596.0,821.8 591.2,825.7 588.0,826.0 C584.8,826.3 581.4,824.3 580.5,822.0 C579.6,819.7 579.2,815.0 582.5,812.0 Z" fill="#161616"/>
<path d="M584.5,818 L587.5,815 L586.5,824 L583.5,826.5 Z M592,812.5 L605,806 L606,808.5 L593,815.5 Z M614.5,805 L618.5,806 L617.5,811 L614,810 Z M596,817 L609,811.5 L609.5,813.5 L597,819 Z" fill="#fff"/>
<path class="p" d="M572.5,841.0 C575.4,839.5 583.7,834.9 590.0,832.0 C596.3,829.1 607.1,824.9 610.5,823.5" stroke-width="2.2"/>
<path class="p" d="M574.5,846.0 C577.1,844.6 584.3,840.2 590.0,837.5 C595.7,834.8 605.4,831.2 608.5,830.0" stroke-width="1.1"/>
<path class="p" d="M572.5,841 L571,852 M610.5,823.5 L607,843 L574,852" stroke-width="1.6"/>
<path class="p" d="M611.5,833 L613.5,822" stroke-width="1.0"/>
<path d="M578,851.5 L606,843.5" stroke="#161616" stroke-width="3.0" stroke-dasharray="1.5 1.7" fill="none"/>
<path class="p" d="M566,842 L568,856" stroke-width="3.2"/>
<ellipse cx="564" cy="859.5" rx="3.0" ry="2.8" fill="#161616" transform="rotate(0 564 859.5)"/>
<ellipse cx="587" cy="869.5" rx="3.8" ry="3.0" fill="#161616" transform="rotate(-20 587 869.5)"/>
<path d="M591,868.5 L618,858.5" stroke="#555" stroke-width="3.4" fill="none"/>
<path d="M591,868.5 L618,858.5" stroke="#fff" stroke-width="3.4" stroke-dasharray="0.9 1.3" fill="none" opacity="0.55"/>
<path class="p" d="M593.5,893 L609.5,885.5" stroke-width="7.0"/>
<path class="p" d="M585,893.8 L593,891.5" stroke-width="2.2"/>
<path class="p" d="M607.0,884.5 C606.8,883.8 605.8,881.4 605.5,880.0 C605.2,878.6 605.2,876.9 605.0,876.0 C604.8,875.1 604.2,874.8 604.0,874.5" stroke-width="1.8"/>
<ellipse cx="612" cy="908.5" rx="3.4" ry="5.2" fill="#161616" transform="rotate(-15 612 908.5)"/>
<path class="pw" d="M592.0,913.5 L594.0,911.5 L597.0,914.0 L610.0,911.0 L610.0,915.0 L600.0,920.5 L594.0,920.5 Z" stroke-width="1.8"/>
<ellipse cx="594.5" cy="915.5" rx="2.0" ry="2.6" fill="#161616" transform="rotate(0 594.5 915.5)"/>
<path d="M596.5,938 L599.5,931 L602.5,938 Z" fill="#161616"/>
<ellipse cx="599.5" cy="940" rx="3.2" ry="2.2" fill="#161616" transform="rotate(0 599.5 940)"/>
<path d="M605.5,938.5 L608,931 L610.5,938.5 Z" fill="#161616"/>
<path class="p" d="M499.5,1016.0 C499.6,1014.7 499.5,1010.2 500.0,1008.0 C500.5,1005.8 501.1,1004.8 502.5,1003.0 C503.9,1001.2 507.5,998.4 508.5,997.5" stroke-width="3.4"/>
<path class="p" d="M508.5,997.5 L555,983" stroke-width="3.2"/>
<path class="p" d="M555.0,983.0 C556.2,983.3 560.5,983.6 562.5,985.0 C564.5,986.4 566.0,989.7 567.0,991.5 C568.0,993.3 568.2,995.2 568.5,996.0" stroke-width="3.2"/>
<path class="p" d="M568.5,996.0 L573.0,997.0 L574.5,1026.0 L565.0,1001.5 Z" stroke-width="2.6"/>
<path class="p" d="M499.5,1016 L501,1031 L515,1048.5 L517.5,1046 L517,1029" stroke-width="2.6"/>
<path class="p" d="M517.0,1029.0 C517.6,1028.1 518.5,1025.2 520.5,1023.5 C522.5,1021.8 525.4,1020.3 529.0,1018.5 C532.6,1016.7 536.0,1015.4 542.0,1012.5 C548.0,1009.6 561.2,1002.9 565.0,1001.0" stroke-width="3.0"/>
<path class="p" d="M563,997.5 L528,1014" stroke-width="2.0"/>
<path class="p" d="M511.5,1002 L526.5,1012.5 M503,1018 L514.5,1029.5 M557,985 L565,997" stroke-width="1.0"/>
<path class="p" d="M503,1031 L516,1046" stroke-width="1.4"/>
<path d="M532.5,1011.0 C531.6,1010.2 535.2,1007.4 536.0,1006.0 C536.8,1004.6 536.7,1003.2 537.5,1002.5 C538.3,1001.8 540.2,1001.4 541.0,1002.0 C541.8,1002.6 541.9,1004.5 542.0,1006.0 C542.1,1007.5 543.1,1010.2 541.5,1011.0 C539.9,1011.8 533.4,1011.8 532.5,1011.0 Z" fill="#161616"/>
<path d="M534.5,1010 L538,1007.5 L538,1010.5 Z" fill="#fff"/>
<path class="pw" d="M497.5,1122.5 L507.5,1111.0 L535.0,1103.0 L541.0,1105.5 L552.5,1112.5 L585.0,1122.5 L622.5,1129.0 L644.0,1128.0 L647.5,1135.0 L648.0,1166.0 L635.0,1167.5 L622.5,1166.0 L620.0,1171.0 L606.0,1174.0 L572.5,1167.5 L573.0,1160.0 L526.0,1152.5 L526.0,1155.0 L514.0,1154.0 L494.0,1148.0 L495.0,1135.0 Z" stroke-width="2.0"/>
<path class="p" d="M535.0,1103.0 L541.0,1105.5 L552.5,1112.5 L585.0,1122.5 L622.5,1129.0 L644.0,1128.0" stroke-width="2.6"/>
<path class="p" d="M507.5,1114.0 L535.0,1106.5 L544.0,1110.0 L555.0,1116.5 L585.0,1125.5 L620.0,1131.5" stroke-width="1.5"/>
<path class="p" d="M511.0,1119.5 L537.0,1111.0 L553.0,1118.0 L585.0,1128.0" stroke-width="1.3"/>
<path class="p" d="M499.5,1124 L497,1121.5 M502,1120.5 L499.5,1118 M505,1117 L502.5,1114.5 M508.5,1114 L506.5,1111" stroke-width="1.6"/>
<path class="p" d="M501.0,1132.5 L516.0,1122.5 L545.0,1121.0 L582.5,1131.0 L610.0,1140.0" stroke-width="3.0"/>
<path class="p" d="M495.0,1135.0 L501.0,1133.5 L526.0,1142.5 L547.5,1151.0 L572.5,1159.0" stroke-width="2.8"/>
<path class="p" d="M572.5,1159.0 L602.5,1155.0 L610.0,1142.5" stroke-width="2.2"/>
<path class="p" d="M516.0,1122.5 L526.0,1130.0 L527.5,1142.5" stroke-width="2.2"/>
<path class="p" d="M519.0,1122.5 L529.0,1130.0 L530.5,1143.5" stroke-width="1.2"/>
<path class="p" d="M545.0,1121.0 L552.5,1132.5 L547.5,1151.0" stroke-width="2.2"/>
<path class="p" d="M582.5,1131.0 L577.5,1142.5 L572.5,1159.0" stroke-width="2.2"/>
<path class="p" d="M586.0,1132.0 L581.0,1143.5 L576.0,1159.0" stroke-width="1.2"/>
<path class="p" d="M526.0,1131.0 L552.5,1133.5 L577.5,1142.5 L605.0,1147.5" stroke-width="1.8"/>
<path class="p" d="M514,1141 L514,1154 M517.5,1141.5 L517.5,1154 M526,1142.5 L526,1152.5" stroke-width="1.6"/>
<path class="p" d="M527,1152.5 L572.5,1167.5" stroke-width="2.6"/>
<path class="p" d="M572.5,1159 L572.5,1167.5 M576,1158.5 L576,1168" stroke-width="1.6"/>
<path class="p" d="M495,1135 L494,1148" stroke-width="2.0"/>
<path d="M587.5,1130.0 L595.0,1131.5 L595.0,1135.5 L587.5,1134.0 Z" fill="#fff" stroke="#161616" stroke-width="1.5" stroke-linejoin="round"/>
<path d="M610.0,1142.0 C610.6,1135.9 613.0,1137.6 615.0,1136.0 C617.0,1134.4 620.7,1127.5 622.0,1132.5 C623.3,1137.5 623.3,1159.6 623.0,1166.0 C622.7,1172.4 621.9,1169.9 620.0,1171.0 C618.1,1172.1 613.2,1177.3 611.5,1172.5 C609.8,1167.7 609.4,1148.1 610.0,1142.0 Z" fill="#161616"/>
<path d="M614,1148 Q615.5,1141 618.5,1140 L619.5,1165 L614.5,1167.5 Z" fill="#fff"/>
<path class="p" d="M626.5,1135 L627.5,1164 M632.5,1132.5 L635,1166" stroke-width="1.3"/>
<path class="p" d="M622.5,1130 L623,1140" stroke-width="1.6"/>
<path class="ld" d="M635,1167.5 L657.5,1172" stroke-width="1.4"/>
<path class="ld" d="M602.5,1155 L425,1311" stroke-width="1.55"/>
<path class="p" d="M577.5,1101 L586.5,1102.5" stroke-width="3.6"/>
<path class="p" d="M579,1111 L586,1111" stroke-width="2.0"/>
<ellipse cx="588" cy="1111" rx="2.6" ry="2.6" fill="#161616" transform="rotate(0 588 1111)"/>
<path class="p" d="M597.5,1111 L604.5,1111" stroke-width="2.0"/>
<ellipse cx="606.5" cy="1111" rx="2.6" ry="2.6" fill="#161616" transform="rotate(0 606.5 1111)"/>
<path class="p" d="M654,1129 L661,1129" stroke-width="2.0"/>
<ellipse cx="663" cy="1129" rx="2.6" ry="2.6" fill="#161616" transform="rotate(0 663 1129)"/>
<path class="p" d="M671,1135.5 L678,1135.5" stroke-width="2.0"/>
<ellipse cx="680" cy="1135.5" rx="2.6" ry="2.6" fill="#161616" transform="rotate(0 680 1135.5)"/>
<path class="p" d="M671,1146 L678,1146" stroke-width="2.0"/>
<ellipse cx="680" cy="1146" rx="2.6" ry="2.6" fill="#161616" transform="rotate(0 680 1146)"/>
<path class="pw" d="M885.0,938.0 L892.0,916.0 L915.0,907.0 L919.0,913.0 L905.0,919.0 L900.0,927.0 L899.5,950.0 L889.0,947.0 Z" stroke-width="2.8"/>
<path class="p" d="M892,916 L897,923 L900,927 M897,923 L890,946" stroke-width="1.5"/>
<path class="p" d="M915.0,907.0 C916.7,905.3 921.5,900.4 925.0,897.0 C928.5,893.6 932.7,888.7 936.0,886.5 C939.3,884.3 942.2,884.4 945.0,884.0 C947.8,883.6 950.0,883.6 952.5,884.0 C955.0,884.4 958.8,886.1 960.0,886.5" stroke-width="3.2"/>
<path class="p" d="M960.0,886.5 C961.0,887.6 964.0,890.1 966.0,893.0 C968.0,895.9 970.3,900.0 972.0,904.0 C973.7,908.0 974.8,912.4 976.0,917.0 C977.2,921.6 978.9,929.1 979.5,931.5" stroke-width="1.6"/>
<path class="p" d="M922.0,913.5 C923.5,911.6 927.8,905.7 931.0,902.0 C934.2,898.3 938.7,893.8 941.5,891.5 C944.3,889.2 945.8,889.2 948.0,888.5 C950.2,887.8 953.8,887.7 955.0,887.5" stroke-width="2.4"/>
<path class="p" d="M927.0,915.5 C928.3,913.8 932.0,908.5 935.0,905.0 C938.0,901.5 942.2,896.8 945.0,894.5 C947.8,892.2 950.8,891.6 952.0,891.0" stroke-width="1.3"/>
<path class="p" d="M936,886.5 L941.5,891.5 M945,884 L948,888.5" stroke-width="1.2"/>
<ellipse cx="916.8" cy="909.8" rx="3.3" ry="3.3" fill="#fff" stroke="#161616" stroke-width="1.8" transform="rotate(0 916.8 909.8)"/>
<circle cx="936" cy="909.5" r="1.9" fill="#161616"/>
<path class="p" d="M921,912.5 L994,936.5" stroke-width="3.2"/>
<path class="p" d="M904,926 L988,948" stroke-width="3.0"/>
<path class="p" d="M900,928 L925,921 L927,915" stroke-width="1.4"/>
<path class="p" d="M925,921 L990,942" stroke-width="1.2"/>
<path class="p" d="M899.6,927.0 L901.0,979.0 L933.0,981.5 L973.0,989.5 L981.5,988.0 L984.0,979.7 L991.0,973.0 L994.0,948.0 L994.0,937.0" stroke-width="2.6"/>
<path class="p" d="M900,930 L901,978" stroke-width="3.4"/>
<path class="p" d="M906.5,930 L908,977 M925,933 L926,981" stroke-width="1.4"/>
<path class="p" d="M933,935 L934,984" stroke-width="3.0"/>
<path class="p" d="M901,975.5 L933,978" stroke-width="1.3"/>
<path class="p" d="M934.0,969.0 C935.8,967.8 941.0,964.1 945.0,961.5 C949.0,958.9 955.8,954.8 958.0,953.5" stroke-width="2.0"/>
<path class="p" d="M958,953.5 L992.5,948" stroke-width="2.0"/>
<path class="p" d="M934.6,971 L973,981.5 L981.5,988 M973,981.5 L984,972 L991,951" stroke-width="1.6"/>
<path class="p" d="M940,937 L958,942 L958,953.5 M958,942 L965,938" stroke-width="1.4"/>
<path class="p" d="M944,937.5 L965,939" stroke-width="2.4"/>
<path class="p" d="M966,950 L970,974 M975,949 L979,971 M985,948.5 L988,964" stroke-width="1.3"/>
<path class="p" d="M962,987.5 L962,990.5 L968,991.5 L968,988.5" stroke-width="1.3"/>
<path d="M994.0,942.5 C992.4,941.1 994.2,935.9 995.0,934.0 C995.8,932.1 997.6,931.0 999.0,931.0 C1000.4,931.0 1002.6,932.1 1003.5,934.0 C1004.4,935.9 1006.1,941.1 1004.5,942.5 C1002.9,943.9 995.6,943.9 994.0,942.5 Z" fill="#fff" stroke="#161616" stroke-width="2.0" stroke-linejoin="round"/>
<ellipse cx="999" cy="938.5" rx="1.6" ry="2.2" fill="none" stroke="#161616" stroke-width="1.2" transform="rotate(0 999 938.5)"/>
<path class="ld" d="M907.0,985 L908.5,1000" stroke-width="1.3" style="stroke:#444"/>
<path class="p" d="M908.5,1000 L908.5,1010" stroke-width="3.2"/>
<ellipse cx="908.5" cy="1012.5" rx="3.6" ry="3.4" fill="#161616" transform="rotate(0 908.5 1012.5)"/>
<path class="ld" d="M920.5,985 L922,1000" stroke-width="1.3" style="stroke:#444"/>
<path class="p" d="M922,1000 L922,1010" stroke-width="3.2"/>
<ellipse cx="922" cy="1012.5" rx="3.6" ry="3.4" fill="#161616" transform="rotate(0 922 1012.5)"/>
<circle cx="920" cy="892.5" r="3.2" fill="#161616"/>
<path class="ld" d="M906,888.5 L932,894" stroke-width="1.45"/>
<path d="M994.3,951.0 L994.3,1011.4 L1031.7,1011.4 L1031.7,994.9 L1044.7,994.9 L1065.5,999.9 L1072.0,997.0 L1070.5,976.9 L1068.4,955.3 L1065.5,939.5 L1059.8,926.6 L1053.3,917.9 L1045.4,913.6 L1031.0,916.5 L1025.3,920.8 L1013.8,935.2 L1013.8,949.6 L1006.6,955.3 L999.4,951.0 Z" fill="#161616" stroke="#161616" stroke-width="1.6" stroke-linejoin="round"/>
<path d="M1016.6,935.9 L1029.6,920.1 L1035.3,919.4 L1022.4,935.9 L1022.4,943.8 L1016.6,943.8 Z" fill="#fff"/>
<path d="M1024.2,937.4 L1035.3,922.6 L1046.8,920.2 L1049.7,923.7 L1039.6,930.9 L1035.3,939.5 L1029.6,946.7 L1024.2,945.3 Z" fill="#fff"/>
<path d="M1048.3,924.8 L1053.7,924.4 L1054.0,928.4 L1048.6,928.7 Z" fill="#fff"/>
<path d="M1051.1,933.4 L1058.3,933.8 L1058.0,936.6 L1051.5,936.3 Z" fill="#fff"/>
<path d="M1042.9,945.6 L1065.5,945.3 L1066.6,950.7 L1042.5,951.0 Z" fill="#fff"/>
<path d="M1031.0,960.4 L1041.1,955.3 L1040.4,966.8 L1031.7,968.3 Z" fill="#fff"/>
<path d="M1042.5,955.3 L1049.7,955.3 L1049.7,984.1 L1042.5,984.1 Z" fill="#fff"/>
<path d="M1051.9,956.8 L1058.0,957.1 L1052.6,969.7 L1051.5,968.3 Z" fill="#fff"/>
<path d="M1061.2,959.6 L1067.7,958.2 L1070.2,989.8 L1064.8,988.4 L1059.8,981.2 Z" fill="#fff"/>
<path d="M1051.9,974.0 L1059.0,969.7 L1052.6,983.4 L1050.1,982.6 Z" fill="#fff"/>
<path d="M1032.4,974.0 L1039.6,971.9 L1041.1,983.4 L1035.3,984.1 Z" fill="#fff"/>
<path d="M998.7,981.2 L1001.7,981.2 L1001.7,997.0 L998.7,997.0 Z" fill="#fff"/>
<path d="M1003.3,981.2 L1008.1,981.2 L1008.1,997.0 L1003.3,997.0 Z" fill="#fff"/>
<path d="M1010.3,981.2 L1014.6,981.2 L1014.6,997.0 L1010.3,997.0 Z" fill="#fff"/>
<path d="M1016.8,981.2 L1021.1,981.2 L1021.1,997.0 L1016.8,997.0 Z" fill="#fff"/>
<path d="M998.7,1001.7 L1006.6,1001.3 L1006.6,1008.2 L998.7,1008.5 Z" fill="#fff"/>
<path d="M1010.9,1001.3 L1015.6,1001.2 L1015.6,1007.1 L1010.9,1007.2 Z" fill="#fff"/>
<path d="M1017.4,1001.0 L1021.3,1000.8 L1021.3,1007.1 L1017.4,1007.1 Z" fill="#fff"/>
<path d="M1023.1,999.9 L1028.3,999.8 L1028.3,1007.1 L1023.1,1007.1 Z" fill="#fff"/>
<path d="M997.9,967.5 L1002.3,966.8 L1002.3,976.9 L997.9,976.9 Z" fill="#fff"/>
<path d="M1003.8,970.1 L1009.4,969.3 L1009.4,976.9 L1003.8,976.9 Z" fill="#fff"/>
<path d="M1010.9,954.6 L1018.8,953.2 L1019.5,957.8 L1011.2,958.6 Z" fill="#fff"/>
<path d="M1004.4,961.1 L1013.4,960.0 L1013.8,964.3 L1004.8,965.0 Z" fill="#fff"/>
<path d="M1012.3,969.7 L1018.8,968.3 L1016.6,974.0 L1012.0,975.8 Z" fill="#fff"/>
<path d="M1020.9,971.9 L1028.1,969.7 L1028.9,973.3 L1020.9,975.8 Z" fill="#fff"/>
<path d="M1056.9,992.0 L1069.8,992.3 L1065.5,998.5 L1056.2,996.3 Z" fill="#fff"/>
<path d="M1035.3,993.4 L1042.5,993.1 L1042.5,996.7 L1035.7,996.7 Z" fill="#fff"/>
<circle cx="1027.4" cy="940.2" r="1.7" fill="#161616"/>
<path class="p" d="M1021,940 L1034.5,923" stroke-width="1.1"/>
<path d="M1021,962 L1027,953" stroke="#888" stroke-width="3" fill="none"/>
<path class="ld" d="M1013,917 L1025,923" stroke-width="1.45"/>
<ellipse cx="1077.5" cy="945" rx="4.4" ry="4.0" fill="#161616" transform="rotate(0 1077.5 945)"/>
<path class="ld" d="M1075,961 L1101,972.5" stroke-width="1.45"/>
<ellipse cx="1088" cy="966.5" rx="3.6" ry="2.6" fill="#161616" transform="rotate(25 1088 966.5)"/>
<path class="ld" d="M1008.8,1021 L1008,1038" stroke-width="1.3" style="stroke:#444"/>
<path class="p" d="M1008,1036 L1008,1046" stroke-width="3.2"/>
<ellipse cx="1008" cy="1048.5" rx="3.6" ry="3.2" fill="#161616" transform="rotate(0 1008 1048.5)"/>
<path class="ld" d="M1028.3,1015 L1027.5,1035" stroke-width="1.3" style="stroke:#444"/>
<path class="p" d="M1027.5,1033 L1027.5,1043" stroke-width="3.2"/>
<ellipse cx="1027.5" cy="1045.5" rx="3.6" ry="3.2" fill="#161616" transform="rotate(0 1027.5 1045.5)"/>
<ellipse cx="1027" cy="1035.5" rx="3.0" ry="2.6" fill="#161616" transform="rotate(0 1027 1035.5)"/>
</svg>
</body></html>
